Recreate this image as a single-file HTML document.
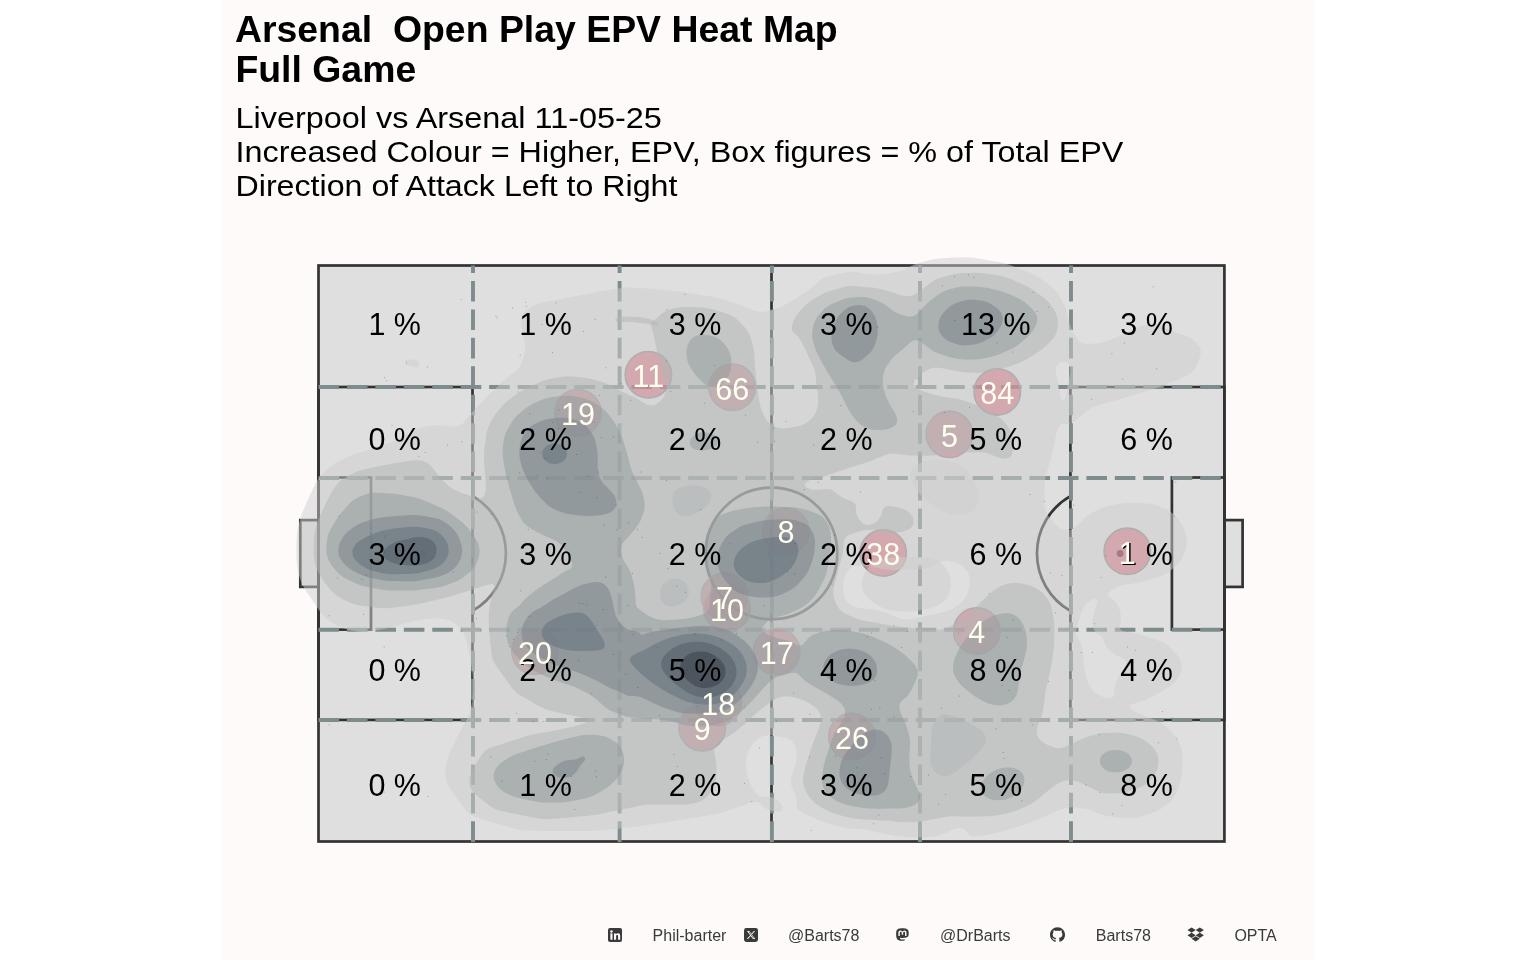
<!DOCTYPE html>
<html lang="en"><head><meta charset="utf-8"><title>Arsenal Open Play EPV Heat Map</title>
<style>html,body{margin:0;padding:0;background:#fff}body{width:1536px;height:960px;overflow:hidden}svg{display:block;will-change:transform}text{font-family:"Liberation Sans",Arial,sans-serif}</style></head><body>
<svg width="1536" height="960" viewBox="0 0 1536 960">
<rect x="221.5" y="0" width="1093" height="960" fill="#FFFAFA"/>
<g fill="#000">
<text transform="translate(234.9,42.1) scale(1.0204,1)" font-size="36.67" font-weight="bold" xml:space="preserve">Arsenal  Open Play EPV Heat Map</text>
<text transform="translate(235.4,81.7) scale(1.0204,1)" font-size="36.67" font-weight="bold" xml:space="preserve">Full Game</text>
<text transform="translate(235.5,127.9) scale(1.081,1)" font-size="30" xml:space="preserve">Liverpool vs Arsenal 11-05-25</text>
<text transform="translate(235.5,161.9) scale(1.078,1)" font-size="30" xml:space="preserve">Increased Colour = Higher, EPV, Box figures = % of Total EPV</text>
<text transform="translate(235.5,196.2) scale(1.0735,1)" font-size="30" xml:space="preserve">Direction of Attack Left to Right</text>
</g>
<g fill="none" stroke="#333333" stroke-width="2.7" stroke-linejoin="miter">
<rect x="318.5" y="265.5" width="905.9" height="576.0" fill="#DFDFDF"/>
<rect x="300.3" y="520.1" width="18.2" height="66.8" fill="#DFDFDF"/>
<rect x="1224.4" y="520.1" width="18.2" height="66.8" fill="#DFDFDF"/>
<line x1="771.5" y1="265.5" x2="771.5" y2="841.5"/>
<circle cx="771.5" cy="553.5" r="65.8"/>
<circle cx="771.5" cy="553.5" r="3.4" fill="#333333" stroke="none"/>
<rect x="318.5" y="387.0" width="154.0" height="332.9"/>
<rect x="318.5" y="477.5" width="52.5" height="152.1"/>
<circle cx="422.7" cy="553.5" r="3.4" fill="#333333" stroke="none"/>
<path d="M472.5,496.1 A66.0,66.0 0 0 1 472.5,610.9"/>
<rect x="1070.4" y="387.0" width="154.0" height="332.9"/>
<rect x="1171.9" y="477.5" width="52.5" height="152.1"/>
<circle cx="1120.2" cy="553.5" r="3.4" fill="#333333" stroke="none"/>
<path d="M1070.4,496.1 A66.0,66.0 0 0 0 1070.4,610.9"/>
</g>
<g fill="none" stroke="#7F8C8D" stroke-width="3.9" stroke-dasharray="20.6 7.84">
<line x1="473.0" y1="841.9" x2="473.0" y2="265.5"/>
<line x1="619.6" y1="841.9" x2="619.6" y2="265.5"/>
<line x1="771.9" y1="841.9" x2="771.9" y2="265.5"/>
<line x1="920.0" y1="841.9" x2="920.0" y2="265.5"/>
<line x1="1071.0" y1="841.9" x2="1071.0" y2="265.5"/>
<line x1="318.5" y1="387.0" x2="1224.4" y2="387.0"/>
<line x1="318.5" y1="478.0" x2="1224.4" y2="478.0"/>
<line x1="318.5" y1="629.7" x2="1224.4" y2="629.7"/>
<line x1="318.5" y1="720.0" x2="1224.4" y2="720.0"/>
</g>
<g fill="#D01E37" fill-opacity="0.47" stroke="#8E8E8E" stroke-width="1.6">
<circle cx="648.4" cy="374.7" r="23.2"/>
<circle cx="732.2" cy="387.2" r="23.2"/>
<circle cx="577.9" cy="412.7" r="23.2"/>
<circle cx="997.3" cy="391.9" r="23.2"/>
<circle cx="949.4" cy="434.3" r="23.2"/>
<circle cx="785.9" cy="531.1" r="23.2"/>
<circle cx="883.2" cy="552.9" r="23.2"/>
<circle cx="1127.3" cy="551.3" r="23.2"/>
<circle cx="724.5" cy="596.3" r="23.2"/>
<circle cx="727.0" cy="608.4" r="23.2"/>
<circle cx="776.7" cy="651.7" r="23.2"/>
<circle cx="976.8" cy="631" r="23.2"/>
<circle cx="535" cy="651.3" r="23.2"/>
<circle cx="718.2" cy="702.4" r="23.2"/>
<circle cx="702.2" cy="727.7" r="23.2"/>
<circle cx="851.9" cy="736.6" r="23.2"/>
</g>
<g stroke="none" fill-rule="evenodd" fill-opacity="0.50">
<path fill="#CDCDCD" d="M935.8,259.0 940.0,258.5 944.0,258.2 948.0,258.0 952.0,257.8 956.0,257.6 960.0,257.5 964.0,257.3 968.0,257.4 972.0,257.6 976.0,258.2 980.0,258.8 984.0,259.5 988.0,260.2 992.0,261.0 996.0,261.6 1000.0,262.3 1003.0,263.0 1006.0,263.8 1008.0,264.4 1010.0,265.1 1012.0,265.8 1014.0,266.6 1016.0,267.3 1018.0,268.1 1020.0,268.9 1022.0,269.6 1024.0,270.4 1026.0,271.1 1028.0,271.9 1030.0,272.7 1032.0,273.5 1034.0,274.5 1036.0,275.6 1038.0,276.8 1040.0,278.2 1042.0,279.7 1043.7,281.0 1046.0,282.7 1048.0,284.2 1050.0,285.7 1051.6,287.0 1053.8,289.0 1055.7,291.0 1057.2,293.0 1058.6,295.0 1059.8,297.0 1061.0,299.0 1062.0,300.9 1063.2,303.0 1064.2,305.0 1065.1,307.0 1065.8,309.0 1066.5,311.0 1067.0,313.0 1067.9,317.0 1068.8,321.0 1069.4,323.0 1069.9,325.0 1070.7,327.0 1071.6,329.0 1072.7,331.0 1073.8,333.0 1075.0,335.0 1076.0,336.8 1077.5,339.0 1079.2,341.0 1081.9,343.0 1084.0,343.7 1088.0,343.9 1092.0,343.8 1096.0,343.6 1100.0,343.1 1104.0,342.1 1106.0,341.4 1108.0,340.6 1110.0,339.9 1112.0,339.1 1114.0,338.3 1116.0,337.4 1118.0,336.6 1120.0,335.8 1121.9,335.0 1124.0,334.1 1126.0,333.2 1128.0,332.2 1130.0,331.3 1132.0,330.3 1134.0,329.3 1136.0,328.3 1138.0,327.3 1140.0,326.4 1142.0,325.7 1144.0,325.1 1148.0,324.5 1152.0,324.5 1156.0,324.8 1160.0,325.4 1162.0,326.0 1164.0,326.9 1166.0,328.0 1167.7,329.0 1170.0,330.1 1171.9,331.0 1174.0,331.8 1176.0,332.6 1178.0,333.2 1180.0,333.9 1182.0,334.5 1184.0,335.2 1186.0,335.9 1188.0,336.8 1190.0,337.9 1191.7,339.0 1194.0,340.9 1196.0,342.8 1198.0,344.9 1199.5,347.0 1200.5,349.0 1200.8,353.0 1200.0,356.5 1199.1,359.0 1198.3,361.0 1197.4,363.0 1196.6,365.0 1195.6,367.0 1194.5,369.0 1193.0,371.0 1190.9,373.0 1188.0,374.8 1186.0,375.8 1184.0,376.7 1182.0,377.6 1180.0,378.4 1178.0,379.3 1176.0,380.2 1174.1,381.0 1172.0,381.9 1170.0,382.8 1168.0,383.6 1166.0,384.5 1164.0,385.3 1162.0,386.1 1160.0,386.8 1158.0,387.6 1156.0,388.2 1154.0,388.8 1152.0,389.5 1150.0,390.1 1148.0,390.7 1146.0,391.3 1144.0,391.9 1142.0,392.5 1140.0,393.1 1138.0,393.7 1136.0,394.3 1134.0,394.9 1132.0,395.5 1130.0,396.1 1128.0,396.7 1126.0,397.3 1124.0,397.9 1122.0,398.5 1120.0,399.1 1118.0,399.7 1116.0,400.3 1114.0,400.8 1112.0,401.4 1110.0,402.0 1108.0,402.6 1106.0,403.1 1104.0,403.7 1102.0,404.3 1100.0,404.9 1098.0,405.5 1096.0,406.1 1094.0,406.9 1092.0,407.8 1090.0,408.9 1088.0,410.2 1086.0,411.7 1084.5,413.0 1082.1,415.0 1080.0,416.8 1078.0,418.4 1076.0,420.0 1074.0,421.5 1072.0,422.8 1070.0,423.7 1066.0,424.1 1062.0,423.8 1060.0,425.0 1058.8,427.0 1057.8,429.0 1057.1,431.0 1056.5,433.0 1056.0,435.0 1055.1,439.0 1054.3,443.0 1053.6,447.0 1052.8,451.0 1052.0,454.5 1051.4,457.0 1050.8,459.0 1050.2,461.0 1049.6,463.0 1049.0,465.0 1048.3,467.0 1047.7,469.0 1047.1,471.0 1046.5,473.0 1046.0,475.0 1045.2,479.0 1044.8,483.0 1044.6,487.0 1044.5,491.0 1044.4,495.0 1044.3,499.0 1044.2,503.0 1044.5,507.0 1045.5,511.0 1046.4,513.0 1047.6,515.0 1049.0,517.0 1050.6,519.0 1052.0,520.6 1054.0,523.0 1055.9,525.0 1058.0,526.8 1060.0,528.2 1062.0,529.2 1064.0,529.8 1068.0,530.2 1072.0,529.2 1074.0,528.1 1075.5,527.0 1077.8,525.0 1079.8,523.0 1081.8,521.0 1083.9,519.0 1086.0,517.1 1088.0,515.5 1090.0,514.2 1091.9,513.0 1094.0,511.9 1095.6,511.0 1098.0,509.8 1099.7,509.0 1102.0,508.0 1104.0,507.2 1106.0,506.5 1108.0,506.0 1112.0,505.1 1116.0,504.4 1120.0,503.7 1124.0,503.2 1128.0,502.8 1132.0,502.7 1136.0,502.8 1139.5,503.0 1142.0,503.1 1146.0,503.4 1150.0,503.8 1154.0,504.6 1156.0,505.2 1158.0,505.9 1160.0,506.7 1162.0,507.6 1164.0,508.4 1166.0,509.3 1168.0,510.3 1170.0,511.5 1172.0,512.9 1174.0,514.6 1176.0,516.7 1177.9,519.0 1179.5,521.0 1181.0,523.0 1182.4,525.0 1183.5,527.0 1184.4,529.0 1185.0,531.0 1185.5,533.0 1186.0,535.3 1186.5,539.0 1186.8,543.0 1186.4,547.0 1185.9,549.0 1185.2,551.0 1184.4,553.0 1183.5,555.0 1182.6,557.0 1181.5,559.0 1180.3,561.0 1178.7,563.0 1176.9,565.0 1174.7,567.0 1172.3,569.0 1170.0,570.9 1168.0,572.3 1166.0,573.6 1164.0,574.7 1162.0,575.6 1160.0,576.3 1158.0,577.0 1156.0,577.6 1154.0,578.2 1152.0,578.8 1150.0,579.4 1148.0,580.0 1146.0,580.6 1144.0,581.2 1142.0,581.7 1138.0,582.6 1134.0,583.4 1130.0,584.0 1126.0,584.6 1123.8,585.0 1120.0,586.0 1118.0,586.7 1116.0,587.7 1114.0,588.7 1112.0,590.1 1110.0,591.7 1108.5,593.0 1107.9,595.0 1109.8,597.0 1112.0,598.6 1114.0,600.3 1116.0,602.7 1117.5,605.0 1118.5,607.0 1119.3,609.0 1119.9,611.0 1120.7,615.0 1120.8,619.0 1120.4,623.0 1120.0,625.2 1120.0,629.0 1122.0,630.7 1124.0,631.4 1128.0,632.2 1132.0,632.9 1136.0,633.5 1140.0,634.4 1142.0,635.0 1144.0,635.6 1146.0,636.3 1148.0,637.0 1150.0,637.7 1152.0,638.4 1154.0,639.1 1156.0,639.8 1158.0,640.5 1160.0,641.2 1162.0,642.0 1164.0,643.0 1166.0,644.2 1168.0,645.8 1169.4,647.0 1171.5,649.0 1173.5,651.0 1175.4,653.0 1177.1,655.0 1178.5,657.0 1179.7,659.0 1180.5,661.0 1181.2,663.0 1181.8,667.0 1181.3,671.0 1180.7,673.0 1179.7,675.0 1178.6,677.0 1177.2,679.0 1176.0,680.6 1174.0,682.8 1172.0,684.5 1170.0,686.0 1168.0,687.5 1166.0,688.8 1164.0,690.1 1162.0,691.4 1160.0,692.5 1158.0,693.6 1156.0,694.6 1154.0,695.6 1152.0,696.5 1150.0,697.5 1148.0,698.5 1146.0,699.4 1144.0,700.2 1142.0,700.9 1140.0,701.6 1138.0,702.3 1136.0,702.9 1134.0,703.6 1132.0,704.4 1130.0,705.8 1131.3,709.0 1134.0,711.0 1136.0,712.1 1138.0,713.2 1140.0,714.1 1141.9,715.0 1144.0,715.8 1146.0,716.6 1148.0,717.4 1150.0,718.1 1152.0,718.9 1154.0,719.6 1156.0,720.5 1158.0,721.4 1160.0,722.5 1162.0,723.8 1163.6,725.0 1166.0,726.8 1168.0,728.5 1170.0,730.2 1172.0,732.1 1174.0,734.4 1175.9,737.0 1177.0,739.0 1178.0,741.0 1178.9,743.0 1179.8,745.0 1180.6,747.0 1181.3,749.0 1181.8,751.0 1182.5,755.0 1182.6,759.0 1182.4,763.0 1182.2,767.0 1182.0,770.5 1181.8,773.0 1181.4,777.0 1180.6,781.0 1180.0,783.0 1179.3,785.0 1178.5,787.0 1177.7,789.0 1176.8,791.0 1176.0,792.8 1175.0,795.0 1174.0,796.9 1172.6,799.0 1171.0,801.0 1168.8,803.0 1166.2,805.0 1164.0,806.6 1162.0,807.9 1160.4,809.0 1158.0,810.4 1156.0,811.4 1154.0,812.3 1152.0,813.1 1150.0,813.8 1148.0,814.4 1146.0,815.1 1144.0,815.7 1142.0,816.3 1140.0,816.9 1138.0,817.5 1134.0,818.2 1130.0,818.3 1126.0,818.1 1122.0,817.7 1118.0,817.4 1114.0,817.1 1110.0,816.6 1106.0,815.9 1104.0,815.3 1102.0,814.7 1100.0,814.1 1098.0,813.3 1096.0,812.5 1094.0,811.5 1092.0,810.5 1090.0,809.7 1088.0,809.1 1084.0,808.4 1080.0,807.9 1076.0,807.6 1072.0,807.3 1068.0,807.5 1064.0,808.4 1062.0,809.1 1060.0,809.8 1058.0,810.6 1056.0,811.4 1054.0,812.3 1052.2,813.0 1050.0,813.9 1048.0,814.8 1046.0,815.7 1044.0,816.5 1042.0,817.4 1040.0,818.3 1038.0,819.2 1036.0,820.1 1034.0,821.0 1032.0,821.8 1030.0,822.7 1028.0,823.5 1026.0,824.2 1024.0,824.9 1022.0,825.5 1020.0,826.2 1018.0,826.7 1016.0,827.3 1014.0,827.9 1012.0,828.5 1010.0,829.0 1008.0,829.6 1006.0,830.2 1004.0,830.8 1002.0,831.3 1000.0,831.9 998.0,832.5 996.0,833.0 992.0,833.9 988.0,834.7 984.0,835.4 980.0,835.9 976.0,836.3 972.0,836.2 970.0,835.4 968.0,833.2 966.3,831.0 964.0,829.3 962.0,828.5 958.0,828.2 954.5,829.0 952.0,830.0 950.0,831.0 948.0,832.0 946.0,832.8 944.0,833.7 942.0,834.4 940.0,835.0 938.0,835.5 934.0,836.2 930.0,836.7 926.0,837.0 922.0,837.2 918.0,837.3 914.0,837.4 910.0,837.3 906.3,837.0 904.0,836.8 900.0,836.3 896.0,835.8 892.0,835.1 888.0,834.5 884.0,833.8 880.1,833.0 878.0,832.5 876.0,832.0 874.0,831.5 872.0,830.9 868.0,830.0 864.0,829.3 861.3,829.0 858.0,828.8 854.0,828.7 850.0,828.4 846.0,827.8 842.6,827.0 840.0,826.4 836.0,825.4 834.0,824.9 830.0,823.9 828.0,823.4 826.0,822.7 824.0,822.1 822.0,821.4 820.0,820.6 818.0,819.7 816.0,818.9 814.0,818.1 812.0,817.2 810.0,816.4 808.0,815.5 806.0,814.5 804.0,813.5 802.0,812.4 800.0,811.2 798.0,809.4 796.8,807.0 796.9,803.0 796.7,799.0 796.0,796.1 794.7,793.0 793.8,791.0 792.7,789.0 792.0,787.2 791.2,785.0 790.8,781.0 791.2,777.0 791.7,775.0 792.4,773.0 793.1,771.0 793.8,769.0 794.5,767.0 795.2,765.0 795.8,763.0 796.5,759.0 796.8,755.0 796.4,751.0 796.0,748.9 795.4,747.0 794.5,745.0 793.3,743.0 792.0,741.4 790.0,739.8 788.0,738.7 786.0,738.0 784.0,737.5 781.5,737.0 778.0,736.4 774.0,735.7 770.0,735.3 766.0,735.4 762.0,736.5 760.0,737.5 758.0,738.8 756.0,740.4 754.0,742.4 752.0,744.8 750.5,747.0 749.3,749.0 748.4,751.0 747.6,753.0 747.0,755.0 746.3,759.0 746.0,763.0 746.2,767.0 746.6,771.0 747.4,775.0 747.9,777.0 748.5,779.0 749.2,781.0 749.9,783.0 750.8,785.0 751.8,787.0 752.9,789.0 754.0,790.9 755.6,793.0 757.6,795.0 760.0,796.5 764.0,796.7 768.0,796.8 772.0,797.4 774.0,798.1 776.0,799.0 778.0,800.5 780.0,802.5 781.8,805.0 782.8,807.0 782.0,810.2 780.0,811.2 776.0,811.5 772.0,811.0 770.0,810.4 768.0,809.6 766.0,808.5 764.0,807.1 762.0,805.3 760.0,803.4 758.0,801.9 754.0,801.9 752.0,802.4 750.0,803.1 748.0,803.8 746.0,804.5 744.0,805.2 742.0,805.9 740.0,806.6 738.0,807.3 736.0,807.9 734.0,808.6 732.0,809.3 730.0,810.0 728.0,810.7 726.0,811.3 724.0,812.0 722.0,812.6 720.0,813.1 716.0,814.0 712.0,814.8 708.0,815.5 704.0,816.2 700.0,816.8 696.0,817.5 692.0,818.2 688.0,818.8 684.0,819.5 680.0,820.1 676.0,820.7 672.0,821.4 668.0,822.0 664.0,822.7 661.7,823.0 658.0,823.5 654.0,824.1 650.0,824.6 646.7,825.0 644.0,825.4 640.0,825.9 636.0,826.4 632.0,826.9 628.0,827.5 624.0,828.0 620.0,828.5 616.0,829.0 612.0,829.4 608.0,829.8 604.0,830.1 600.0,830.3 596.0,830.5 592.0,830.7 588.0,830.9 584.0,831.0 580.0,831.0 576.0,831.0 572.0,830.9 568.0,830.9 564.0,830.9 560.0,830.9 556.0,830.9 552.0,830.9 548.0,830.9 544.0,830.9 540.0,830.8 536.0,830.6 532.0,830.5 528.0,830.4 524.0,830.3 520.0,829.9 516.0,829.0 514.0,828.5 512.0,827.9 510.0,827.3 508.0,826.7 506.0,826.1 504.0,825.5 502.0,824.9 500.0,824.3 498.0,823.8 496.0,823.2 494.0,822.7 492.0,822.1 490.0,821.5 488.0,820.9 486.0,820.3 484.0,819.7 482.0,819.1 480.0,818.5 478.0,817.8 476.0,817.2 474.0,816.4 472.0,815.5 470.0,814.2 468.6,813.0 466.6,811.0 465.0,809.0 463.5,807.0 462.0,805.0 460.5,803.0 459.0,801.0 457.6,799.0 456.1,797.0 454.6,795.0 453.2,793.0 452.0,791.2 450.5,789.0 449.3,787.0 448.2,785.0 447.3,783.0 446.6,781.0 446.1,779.0 445.5,775.0 445.4,771.0 445.8,767.0 446.6,763.0 447.1,761.0 447.7,759.0 448.3,757.0 449.0,755.0 449.8,753.0 450.6,751.0 451.5,749.0 452.4,747.0 453.3,745.0 454.3,743.0 455.3,741.0 456.3,739.0 457.3,737.0 458.4,735.0 459.5,733.0 460.6,731.0 461.7,729.0 462.9,727.0 464.0,725.0 465.0,723.0 466.0,721.2 467.1,719.0 468.0,717.0 468.8,715.0 469.5,713.0 470.2,711.0 470.7,709.0 471.6,705.0 472.3,701.0 472.7,697.0 473.0,693.0 473.1,689.0 473.1,685.0 473.0,681.0 472.7,677.0 472.4,673.0 472.0,669.2 471.7,667.0 471.0,663.0 470.4,659.0 470.0,656.8 469.2,653.0 468.4,649.0 467.4,645.0 466.4,641.0 465.8,639.0 465.1,637.0 464.3,635.0 463.3,633.0 462.0,631.0 460.6,629.0 459.0,627.0 457.2,625.0 454.8,623.0 452.0,621.4 450.0,620.6 448.0,619.9 446.0,619.3 442.0,618.4 438.0,618.2 434.0,618.4 430.0,618.7 427.3,619.0 424.0,619.4 420.0,619.9 416.0,620.5 413.3,621.0 410.0,621.8 408.0,622.4 406.0,623.0 404.0,623.6 402.0,624.2 400.0,624.8 398.0,625.4 396.0,626.0 394.0,626.6 392.0,627.1 390.0,627.6 386.0,628.6 383.8,629.0 380.0,629.8 376.0,630.6 373.8,631.0 370.0,631.7 366.0,632.1 362.0,632.0 358.0,631.4 355.7,631.0 352.0,630.3 348.0,629.5 344.0,628.5 342.0,627.9 340.0,627.1 338.0,626.1 336.2,625.0 334.0,623.6 332.0,622.2 330.3,621.0 328.0,619.3 326.0,617.7 324.0,616.0 322.0,613.9 320.0,611.4 318.3,609.0 316.9,607.0 315.6,605.0 314.3,603.0 312.9,601.0 311.6,599.0 310.2,597.0 308.9,595.0 307.5,593.0 306.2,591.0 304.9,589.0 303.7,587.0 302.6,585.0 301.7,583.0 300.9,581.0 300.2,579.0 299.5,577.0 298.9,575.0 298.4,573.0 297.5,569.0 297.0,565.0 296.7,561.0 296.5,557.0 296.4,553.0 296.4,549.0 296.5,545.0 296.6,541.0 296.9,537.0 297.2,533.0 297.8,529.0 298.7,525.0 299.2,523.0 299.8,521.0 300.4,519.0 301.0,517.0 301.7,515.0 302.4,513.0 303.1,511.0 303.9,509.0 304.8,507.0 305.6,505.0 306.5,503.0 307.3,501.0 308.2,499.0 309.1,497.0 310.0,495.0 310.9,493.0 311.8,491.0 312.8,489.0 313.8,487.0 314.8,485.0 315.9,483.0 317.1,481.0 318.5,479.0 320.0,477.1 321.9,475.0 323.8,473.0 325.8,471.0 327.8,469.0 330.0,467.0 332.0,465.4 334.0,464.0 335.6,463.0 338.0,461.7 340.0,460.6 342.0,459.7 344.0,458.7 346.0,457.7 348.0,456.8 350.0,455.8 352.0,455.0 354.0,454.3 356.0,453.6 358.0,453.0 360.0,452.3 362.0,451.8 364.0,451.2 366.0,450.6 368.0,450.0 370.0,449.4 372.0,448.8 374.0,448.2 376.0,447.6 378.0,446.9 380.0,446.2 382.0,445.5 384.0,444.8 386.0,444.1 388.0,443.3 390.0,442.6 392.0,441.8 394.0,441.0 396.0,440.2 398.0,439.3 400.0,438.2 402.0,437.2 404.0,436.1 405.9,435.0 408.0,433.8 410.0,432.7 412.0,431.6 414.0,430.6 416.0,429.7 418.0,428.9 420.0,428.1 422.0,427.5 424.0,427.0 428.0,426.2 432.0,425.8 436.0,425.6 440.0,425.6 444.0,425.8 448.0,426.2 452.0,426.5 456.0,426.5 460.0,425.6 462.0,424.3 463.3,423.0 465.1,421.0 466.8,419.0 468.0,417.5 470.0,415.0 471.7,413.0 473.6,411.0 475.5,409.0 477.3,407.0 479.2,405.0 481.0,403.0 482.9,401.0 484.6,399.0 486.0,397.6 488.0,395.5 490.0,393.6 492.0,391.7 494.0,389.8 496.0,388.0 498.0,386.2 500.0,384.3 501.4,383.0 503.6,381.0 506.0,379.0 508.0,377.3 510.0,375.6 512.0,373.9 514.0,372.3 515.8,371.0 518.0,369.2 520.0,367.0 521.1,365.0 521.8,363.0 522.3,361.0 522.9,359.0 523.5,357.0 524.1,355.0 524.7,353.0 525.3,349.0 525.1,345.0 524.4,341.0 523.5,337.0 522.7,333.0 522.0,329.5 521.6,327.0 521.0,323.0 520.8,319.0 522.0,315.0 523.5,313.0 525.6,311.0 528.0,309.1 530.0,307.7 532.0,306.4 534.0,305.3 536.0,304.4 538.0,303.7 540.0,303.1 544.0,302.2 548.0,301.5 550.6,301.0 554.0,300.4 558.0,299.7 561.7,299.0 564.0,298.6 568.0,297.8 572.0,297.1 576.0,296.3 580.0,295.4 582.1,295.0 586.0,294.2 590.0,293.4 594.0,292.6 598.0,291.9 602.0,291.1 606.0,290.4 610.0,289.7 614.0,289.0 618.0,288.4 622.0,287.9 626.0,287.6 630.0,287.5 634.0,287.7 638.0,287.9 642.0,288.1 646.0,288.4 650.0,288.7 653.7,289.0 656.0,289.2 660.0,289.6 664.0,290.1 668.0,290.5 672.0,290.9 676.0,291.3 680.0,291.8 684.0,292.3 688.0,292.9 692.0,293.6 696.0,294.2 700.0,294.9 704.0,295.5 708.0,296.1 712.0,296.8 716.0,297.5 720.0,298.5 722.0,299.0 724.0,299.6 726.0,300.3 728.0,301.0 730.0,301.6 732.0,302.3 733.9,303.0 736.0,303.7 738.0,304.4 740.0,305.2 742.0,305.9 744.0,306.7 746.0,307.5 748.0,308.2 750.0,309.0 752.0,309.7 754.0,310.4 756.0,311.0 760.0,311.7 764.0,311.7 768.0,311.1 772.0,310.2 774.0,309.6 776.0,309.0 778.0,308.3 780.0,307.4 782.0,306.5 784.0,305.4 786.0,304.3 788.0,303.2 790.0,302.1 791.9,301.0 794.0,299.7 796.0,298.4 798.0,297.2 800.0,295.7 802.0,294.3 804.0,293.0 806.0,291.6 808.0,290.2 809.8,289.0 812.0,287.4 814.0,285.8 816.0,284.1 818.0,282.2 820.0,280.2 821.5,279.0 824.0,277.7 826.0,277.1 828.0,276.5 830.0,275.9 832.0,275.3 834.0,274.8 838.0,273.9 842.0,273.2 846.0,272.5 850.0,272.0 854.0,271.8 858.0,272.2 861.7,273.0 864.0,273.5 868.0,274.1 872.0,274.4 876.0,274.6 880.0,274.6 884.0,274.1 888.0,273.4 890.3,273.0 894.0,272.3 898.0,271.4 900.0,270.8 902.0,270.2 904.0,269.4 906.0,268.5 908.0,267.6 910.0,266.6 912.0,265.7 914.0,264.8 916.0,264.0 918.0,263.3 920.0,262.7 922.0,262.2 924.0,261.6 926.0,261.1 930.0,260.1 934.0,259.3ZM946.0,560.8 942.0,561.6 940.0,562.3 938.0,563.3 936.0,564.3 934.0,565.3 932.0,566.3 930.0,567.1 928.0,567.8 926.0,568.3 922.0,569.0 918.0,569.2 914.0,569.4 910.0,569.5 906.0,569.7 902.0,569.9 898.0,570.0 894.0,570.0 890.0,569.8 886.0,569.5 882.5,569.0 880.0,568.6 876.0,567.7 873.0,567.0 870.0,566.4 866.0,565.9 862.0,565.6 858.0,565.6 854.0,566.1 852.0,566.9 850.0,568.2 848.0,570.3 846.3,573.0 845.3,575.0 844.6,577.0 844.0,579.0 843.3,583.0 843.0,587.0 843.1,591.0 843.8,595.0 844.4,597.0 845.4,599.0 846.7,601.0 848.0,602.6 850.0,604.3 852.0,605.5 854.0,606.4 856.0,607.1 858.0,607.7 862.0,608.5 866.0,609.0 870.0,609.3 874.0,609.7 878.0,610.4 880.5,611.0 884.0,612.1 886.0,612.8 888.0,613.6 890.0,614.4 892.0,615.3 894.0,616.2 896.0,617.0 898.0,617.8 900.0,618.4 902.0,619.0 906.0,619.5 910.0,619.3 912.3,619.0 916.0,618.3 920.0,617.4 924.0,616.5 928.0,615.6 930.8,615.0 934.0,614.3 938.0,613.4 942.0,612.5 944.0,611.9 946.0,611.3 948.0,610.7 950.0,609.9 952.0,609.1 954.0,608.0 955.8,607.0 958.0,605.5 960.0,603.9 962.0,601.8 964.0,599.3 965.5,597.0 966.6,595.0 967.5,593.0 968.3,591.0 968.9,589.0 969.7,585.0 970.0,581.0 969.5,577.0 969.0,575.0 968.3,573.0 967.2,571.0 966.0,569.4 964.0,567.3 962.0,565.7 960.0,564.4 958.0,563.4 956.0,562.6 954.0,561.9 952.0,561.3 948.0,560.7ZM1060.0,362.6 1058.0,363.9 1056.0,367.0 1055.8,371.0 1056.5,375.0 1057.4,379.0 1058.0,382.4 1058.6,385.0 1059.3,389.0 1059.9,393.0 1060.9,397.0 1061.4,399.0 1062.0,401.0 1064.8,399.0 1065.5,397.0 1066.1,395.0 1066.7,391.0 1067.4,387.0 1068.0,384.6 1068.7,381.0 1069.5,377.0 1070.0,374.7 1070.4,371.0 1070.2,367.0 1069.6,365.0 1068.2,363.0 1066.0,362.0 1062.0,362.0 1060.0,362.6ZM1096.0,598.8 1092.0,599.7 1090.0,600.7 1088.0,602.2 1086.0,604.2 1084.0,606.9 1082.9,609.0 1082.0,610.7 1081.1,613.0 1080.4,615.0 1079.7,617.0 1079.2,619.0 1078.6,621.0 1078.0,622.9 1077.5,625.0 1076.9,627.0 1076.2,629.0 1075.6,633.0 1076.0,635.3 1077.0,637.0 1078.0,638.7 1079.6,641.0 1080.7,643.0 1081.5,645.0 1082.0,647.0 1082.8,651.0 1083.2,655.0 1083.6,659.0 1083.9,663.0 1084.4,667.0 1084.9,671.0 1085.6,675.0 1086.7,679.0 1087.3,681.0 1088.1,683.0 1089.1,685.0 1090.3,687.0 1091.7,689.0 1093.5,691.0 1095.7,693.0 1098.0,694.5 1100.0,695.6 1102.0,696.5 1104.0,697.2 1106.0,697.7 1110.0,698.2 1113.4,697.0 1114.1,695.0 1114.4,691.0 1114.9,687.0 1116.0,683.0 1116.7,681.0 1117.6,679.0 1118.6,677.0 1119.8,675.0 1121.0,673.0 1122.3,671.0 1123.6,669.0 1124.7,667.0 1125.7,665.0 1126.0,661.7 1124.2,659.0 1122.0,657.9 1120.0,657.0 1118.0,656.2 1116.0,655.2 1114.0,654.1 1112.3,653.0 1110.1,651.0 1108.3,649.0 1106.8,647.0 1105.7,645.0 1104.7,643.0 1104.1,641.0 1103.4,639.0 1102.3,637.0 1100.0,635.2 1098.0,634.0 1096.0,632.4 1094.7,631.0 1093.6,629.0 1092.9,627.0 1092.4,623.0 1092.5,619.0 1093.3,615.0 1093.9,613.0 1094.6,611.0 1095.3,609.0 1096.0,607.1 1096.7,605.0 1097.3,603.0 1096.6,599.0Z"/>
<path fill="#B2B6B6" d="M969.0,273.0 972.0,272.9 976.0,272.8 980.0,273.0 984.0,273.3 988.0,273.9 992.0,274.5 995.6,275.0 998.0,275.4 1002.0,276.1 1005.2,277.0 1008.0,278.0 1010.0,278.7 1012.0,279.6 1014.0,280.5 1016.0,281.4 1018.0,282.2 1019.8,283.0 1022.0,284.0 1024.0,284.9 1026.0,285.8 1028.0,286.8 1030.0,287.9 1031.7,289.0 1034.0,290.6 1036.0,292.0 1038.0,293.5 1040.0,295.0 1042.0,296.5 1044.0,298.0 1046.0,299.6 1047.5,301.0 1049.4,303.0 1051.0,305.0 1052.4,307.0 1053.6,309.0 1054.7,311.0 1055.7,313.0 1056.5,315.0 1057.2,317.0 1057.8,321.0 1057.8,325.0 1057.4,329.0 1056.3,333.0 1055.4,335.0 1054.1,337.0 1052.5,339.0 1050.7,341.0 1048.9,343.0 1046.9,345.0 1044.7,347.0 1042.2,349.0 1040.0,350.6 1038.0,351.9 1036.4,353.0 1034.0,354.6 1032.0,355.9 1030.2,357.0 1028.0,358.4 1026.0,359.6 1024.0,360.6 1022.0,361.6 1020.0,362.4 1018.0,363.2 1016.0,364.0 1014.0,364.7 1012.0,365.5 1010.0,366.2 1008.0,366.9 1006.0,367.5 1004.0,368.1 1002.0,368.6 998.0,369.5 994.0,370.3 990.6,371.0 988.0,371.6 984.0,372.3 980.0,372.8 976.0,372.9 972.0,372.8 968.0,372.5 964.0,372.2 960.0,371.7 956.0,371.1 952.0,370.3 948.0,369.4 944.0,368.6 940.0,367.9 936.0,367.6 932.0,368.1 930.0,368.8 928.0,369.6 926.0,370.7 924.0,371.9 922.3,373.0 920.0,374.8 918.0,376.7 916.0,378.7 914.3,381.0 913.6,383.0 914.0,385.4 915.1,387.0 917.8,389.0 920.0,390.0 922.0,390.9 924.0,391.6 926.0,392.3 928.0,393.0 930.0,393.6 932.0,394.2 934.0,394.8 936.0,395.3 940.0,396.2 944.0,396.9 948.0,397.5 952.0,398.0 956.0,398.6 958.1,399.0 962.0,400.0 964.0,400.6 966.0,401.2 968.0,401.9 970.0,402.6 972.0,403.3 974.0,404.1 976.0,404.8 978.0,405.7 980.0,406.5 982.0,407.4 984.0,408.3 986.0,409.2 988.0,410.2 990.0,411.4 992.0,412.6 994.0,413.8 995.7,415.0 998.0,416.6 1000.0,418.1 1002.0,419.8 1003.3,421.0 1005.2,423.0 1006.8,425.0 1008.0,426.7 1009.3,429.0 1010.2,431.0 1011.0,433.0 1011.7,435.0 1012.2,437.0 1012.8,441.0 1013.0,445.0 1013.0,449.0 1012.4,453.0 1011.6,455.0 1010.1,457.0 1008.0,458.2 1004.0,458.7 1000.0,458.0 998.0,457.3 996.0,456.6 994.0,455.7 992.0,454.9 990.0,454.1 988.0,453.4 986.0,452.8 982.0,452.2 978.0,452.1 974.0,452.2 970.0,452.4 966.0,452.6 962.0,452.8 959.3,453.0 956.0,453.3 952.0,453.7 948.0,454.1 944.0,454.5 940.0,454.9 936.0,455.3 932.0,455.6 928.0,455.8 924.0,455.7 920.0,455.7 916.0,455.5 912.0,455.4 908.0,455.2 905.6,455.0 902.0,454.6 898.0,454.0 894.0,453.6 890.0,453.8 886.0,454.7 884.0,455.4 882.0,456.2 880.1,457.0 878.0,457.9 876.0,458.8 874.0,459.6 872.0,460.4 870.0,461.2 868.0,461.9 866.0,462.6 864.0,463.3 862.0,463.9 860.0,464.5 858.0,465.1 856.0,465.7 854.0,466.3 852.0,466.9 850.0,467.6 848.0,468.2 846.0,468.9 844.0,469.6 842.0,470.3 840.0,470.9 838.0,471.6 836.0,472.3 834.0,473.0 832.0,473.8 830.0,474.5 828.0,475.2 826.0,476.0 824.0,476.6 820.0,477.5 816.0,478.3 812.9,479.0 810.0,480.1 808.0,481.0 806.0,482.3 804.4,485.0 805.9,487.0 808.0,488.1 810.0,489.0 814.0,489.7 818.0,489.8 822.0,489.5 826.0,489.0 830.0,489.3 832.0,490.0 834.0,491.4 836.0,493.0 838.0,494.6 840.0,496.0 841.5,497.0 844.0,498.3 846.0,499.2 848.0,500.0 850.0,500.8 852.0,501.7 854.0,502.8 855.8,505.0 856.0,509.0 856.3,513.0 857.6,517.0 858.7,519.0 860.0,520.6 862.0,522.5 864.0,523.9 866.0,524.7 868.9,525.0 872.0,524.5 874.0,523.5 876.0,522.1 878.0,520.1 880.0,517.3 881.2,515.0 882.0,513.0 882.6,511.0 883.2,509.0 884.5,507.0 888.0,506.0 892.0,506.3 895.8,507.0 898.0,507.4 902.0,508.5 904.0,509.3 906.0,510.3 908.0,511.6 909.7,513.0 911.5,515.0 912.6,517.0 913.3,519.0 913.5,523.0 912.9,525.0 912.0,526.6 910.0,528.6 908.0,529.8 906.0,530.6 904.0,531.2 900.0,532.0 896.0,532.7 892.0,532.9 888.0,532.4 884.0,531.6 880.5,531.0 878.0,530.5 874.0,530.0 870.0,529.8 866.0,529.9 862.0,530.7 860.0,531.2 858.0,531.7 856.0,532.4 854.0,533.1 852.0,533.8 850.0,534.6 848.0,535.6 846.2,537.0 844.8,539.0 844.0,541.0 843.5,545.0 843.3,549.0 842.9,553.0 842.0,556.8 841.4,559.0 840.7,561.0 840.1,563.0 839.6,565.0 839.0,567.0 838.5,569.0 838.0,571.0 837.5,573.0 836.9,575.0 836.4,577.0 835.9,579.0 835.4,581.0 834.4,585.0 833.6,589.0 833.2,593.0 833.7,597.0 834.3,599.0 835.0,601.0 835.9,603.0 836.8,605.0 837.9,607.0 839.4,609.0 841.4,611.0 844.0,612.9 846.0,613.9 848.0,614.9 850.0,615.8 852.0,616.7 854.0,617.6 856.0,618.4 858.0,619.1 860.0,619.8 862.0,620.3 865.4,621.0 868.0,621.5 872.0,622.1 876.0,622.8 880.0,623.6 884.0,624.3 888.0,625.0 892.0,625.7 896.0,626.3 900.0,626.8 904.0,627.3 908.0,627.6 912.0,627.9 916.0,628.3 920.0,628.7 924.0,629.3 928.0,629.8 932.0,630.0 936.0,629.9 940.0,629.4 942.1,629.0 946.0,627.9 948.0,627.2 950.0,626.3 952.0,625.4 954.0,624.3 956.0,623.2 958.0,621.9 960.0,620.6 962.0,619.2 964.0,617.7 966.0,616.1 968.0,614.4 969.7,613.0 971.9,611.0 974.0,609.0 976.0,607.1 978.0,605.2 980.0,603.2 982.0,601.2 984.0,599.2 986.0,597.3 988.0,595.4 990.0,593.7 992.0,592.0 994.0,590.4 996.0,589.0 998.0,587.7 1000.0,586.6 1002.0,585.7 1004.0,584.9 1006.0,584.2 1008.0,583.7 1012.0,583.1 1016.0,583.0 1020.0,583.3 1024.0,583.9 1028.0,585.0 1030.0,585.6 1032.0,586.4 1034.0,587.3 1036.0,588.3 1038.0,589.5 1040.0,590.9 1042.0,592.5 1044.0,594.5 1046.0,596.8 1047.5,599.0 1048.7,601.0 1049.7,603.0 1050.6,605.0 1051.3,607.0 1051.9,609.0 1052.7,613.0 1053.3,617.0 1053.8,621.0 1054.1,625.0 1054.4,629.0 1054.4,633.0 1054.3,637.0 1054.1,641.0 1053.9,645.0 1053.6,649.0 1053.2,653.0 1052.6,657.0 1052.0,660.8 1051.6,663.0 1050.9,667.0 1050.2,671.0 1049.4,675.0 1048.4,679.0 1047.9,681.0 1047.4,683.0 1046.9,685.0 1046.0,688.7 1045.6,691.0 1045.0,695.0 1044.6,699.0 1044.1,703.0 1043.6,707.0 1042.8,711.0 1042.0,714.0 1041.1,717.0 1040.3,719.0 1039.6,721.0 1038.8,723.0 1038.0,724.9 1037.3,727.0 1036.6,731.0 1037.2,735.0 1038.0,736.9 1039.4,739.0 1041.3,741.0 1043.8,743.0 1046.0,744.2 1048.0,745.1 1050.0,745.9 1052.0,746.7 1054.0,747.4 1056.0,748.0 1060.0,748.3 1064.0,747.3 1066.0,746.5 1068.0,745.7 1070.0,744.7 1072.0,743.7 1074.0,742.7 1076.0,741.7 1078.0,740.7 1080.0,739.8 1082.0,739.0 1084.0,738.2 1086.0,737.5 1088.0,736.8 1090.0,736.1 1092.0,735.5 1094.0,734.9 1096.0,734.4 1100.0,733.6 1104.0,733.1 1108.0,732.9 1112.0,732.7 1116.0,732.6 1120.0,732.7 1124.0,733.3 1128.0,734.2 1130.0,734.7 1132.0,735.2 1134.0,735.8 1136.0,736.4 1138.0,737.1 1140.0,738.0 1142.0,739.0 1144.0,740.2 1146.0,741.6 1148.0,743.0 1150.0,744.6 1152.0,746.4 1154.0,748.6 1155.6,751.0 1156.6,753.0 1157.4,755.0 1157.9,757.0 1158.4,761.0 1158.2,765.0 1157.3,769.0 1156.5,771.0 1155.5,773.0 1154.2,775.0 1152.6,777.0 1150.9,779.0 1149.0,781.0 1146.9,783.0 1144.3,785.0 1142.0,786.3 1140.0,787.3 1138.0,788.1 1136.0,788.9 1134.0,789.7 1132.0,790.4 1130.1,791.0 1128.0,791.6 1124.0,792.5 1120.0,793.0 1116.0,793.3 1112.0,793.5 1108.0,793.6 1104.0,793.2 1100.0,792.0 1098.0,791.2 1096.0,790.3 1094.0,789.3 1092.0,788.3 1090.0,787.4 1088.0,786.4 1086.0,785.4 1084.0,784.4 1082.0,783.5 1080.0,782.6 1078.0,781.8 1076.0,781.2 1074.0,780.6 1070.0,780.1 1066.0,780.5 1064.0,781.0 1062.0,781.7 1060.0,782.6 1058.0,783.6 1056.0,784.8 1054.0,786.2 1052.0,787.6 1050.2,789.0 1048.0,790.7 1046.0,792.3 1044.0,793.9 1042.0,795.6 1040.4,797.0 1038.0,798.9 1036.0,800.5 1034.0,801.9 1032.3,803.0 1030.0,804.4 1028.0,805.5 1026.0,806.5 1024.0,807.4 1022.0,808.3 1020.0,809.1 1018.0,809.9 1016.0,810.7 1014.0,811.4 1012.0,812.0 1010.0,812.6 1008.0,813.1 1004.0,814.0 1000.0,814.8 996.0,815.5 992.0,816.0 988.0,816.2 984.0,816.3 980.0,816.4 976.0,816.4 972.0,816.4 968.0,816.4 964.0,816.4 960.0,816.4 956.0,816.3 952.0,816.2 948.0,816.5 944.9,817.0 942.0,817.5 938.0,818.3 934.0,819.0 930.0,819.7 926.0,820.4 922.0,821.0 918.0,821.4 914.0,821.9 910.0,822.2 906.0,822.3 902.0,822.3 898.0,821.9 894.0,821.2 890.0,820.8 886.0,820.6 882.0,820.5 878.0,820.2 874.0,820.0 870.0,819.7 866.0,819.4 862.0,819.2 858.6,819.0 856.0,818.8 852.0,818.2 848.0,817.3 846.0,816.8 844.0,816.3 842.0,815.7 840.0,815.2 838.0,814.7 836.0,814.1 834.0,813.5 832.0,812.8 830.0,812.0 828.0,811.1 826.0,810.1 824.1,809.0 822.0,807.8 820.0,806.6 818.0,805.3 816.0,803.8 814.0,802.2 812.0,800.2 810.0,797.9 808.0,795.1 806.7,793.0 805.7,791.0 804.9,789.0 804.2,787.0 803.7,785.0 803.1,781.0 803.2,777.0 803.9,773.0 804.9,769.0 805.4,767.0 805.9,765.0 806.5,763.0 807.1,761.0 807.8,759.0 808.4,757.0 809.1,755.0 809.7,753.0 810.4,751.0 811.1,749.0 811.8,747.0 812.5,745.0 813.2,743.0 813.9,741.0 814.7,739.0 815.4,737.0 816.2,735.0 816.9,733.0 817.7,731.0 818.4,729.0 819.1,727.0 819.8,725.0 820.4,723.0 821.0,719.0 820.5,715.0 819.8,713.0 818.6,711.0 817.0,709.0 814.9,707.0 812.2,705.0 810.0,703.7 808.0,702.6 806.0,701.6 804.0,700.7 802.0,699.8 800.0,699.0 798.0,698.4 796.0,697.8 792.4,697.0 790.0,696.6 786.0,696.3 782.0,696.8 780.0,697.3 778.0,698.0 776.0,698.9 774.0,700.0 772.3,701.0 770.0,702.6 768.0,704.0 766.0,705.5 764.0,707.0 762.0,708.5 760.0,710.1 758.0,711.7 756.5,713.0 754.2,715.0 752.0,717.0 750.0,718.9 748.0,720.7 746.0,722.6 744.0,724.4 742.0,726.1 740.0,727.8 738.5,729.0 736.0,731.0 734.0,732.5 732.0,733.9 730.4,735.0 728.0,736.7 726.0,738.0 724.4,739.0 722.0,740.6 720.0,741.9 718.4,743.0 716.2,745.0 714.8,747.0 714.2,749.0 714.4,753.0 715.3,757.0 716.0,760.7 716.3,763.0 716.5,767.0 716.5,771.0 716.2,775.0 716.0,777.8 715.6,781.0 714.5,785.0 713.6,787.0 712.6,789.0 711.4,791.0 710.0,793.0 708.6,795.0 706.8,797.0 704.4,799.0 702.0,800.4 700.0,801.3 698.0,802.0 696.0,802.7 694.0,803.2 690.0,804.1 686.0,804.5 682.0,804.7 678.0,804.7 674.0,804.6 670.0,804.6 666.0,804.6 662.0,804.6 658.0,804.5 654.0,804.5 650.0,804.6 646.0,804.8 642.0,805.3 638.0,806.0 634.0,806.9 630.0,807.7 626.0,808.6 623.9,809.0 620.0,809.8 616.0,810.6 612.0,811.5 608.0,812.3 605.0,813.0 602.0,813.6 598.0,814.4 594.2,815.0 590.0,815.5 586.0,815.9 582.0,816.2 578.0,816.6 574.0,817.0 570.0,817.4 566.0,817.7 562.0,818.1 558.0,818.5 554.0,818.8 550.0,819.1 546.0,819.2 542.3,819.0 540.0,818.7 536.0,818.0 532.0,817.3 528.0,816.5 524.0,815.7 520.2,815.0 518.0,814.5 514.0,813.7 510.4,813.0 508.0,812.5 504.0,811.6 501.1,811.0 498.0,810.1 496.0,809.4 494.0,808.4 492.0,807.3 490.0,805.9 488.0,804.4 486.2,803.0 484.0,801.3 482.0,799.7 480.0,798.1 478.0,796.4 476.3,795.0 474.1,793.0 472.3,791.0 471.0,789.0 470.0,787.0 469.5,785.0 469.2,781.0 469.7,777.0 470.3,775.0 471.1,773.0 472.0,771.1 473.2,769.0 474.3,767.0 475.5,765.0 476.7,763.0 477.9,761.0 479.1,759.0 480.3,757.0 481.6,755.0 483.1,753.0 485.0,751.0 487.9,749.0 490.0,748.0 492.0,747.3 494.0,746.6 496.0,745.9 498.0,745.3 500.0,744.7 502.0,744.0 504.0,743.4 506.0,742.7 508.0,742.0 510.0,741.4 512.0,740.8 514.0,740.1 516.0,739.5 518.0,738.9 520.0,738.2 522.0,737.6 524.0,736.9 526.0,736.3 528.0,735.7 530.0,735.1 534.0,734.2 538.0,733.5 541.4,733.0 544.0,732.5 548.0,731.8 552.0,731.1 556.0,730.2 560.0,729.4 564.0,728.5 568.0,727.7 571.4,727.0 574.0,726.2 576.0,725.7 579.2,725.0 582.0,724.0 584.0,723.4 588.0,721.8 586.6,719.0 584.0,718.3 582.0,717.7 580.0,717.2 576.0,716.3 572.0,715.5 569.6,715.0 566.0,714.3 562.0,713.4 558.0,712.5 554.0,711.5 551.8,711.0 548.0,709.9 546.0,709.3 544.0,708.5 542.0,707.6 540.0,706.6 538.0,705.6 536.0,704.4 534.0,703.3 532.0,702.1 530.1,701.0 528.0,699.8 526.0,698.6 524.0,697.5 522.0,696.3 520.0,695.1 518.0,693.7 516.0,692.2 514.0,690.2 512.0,687.9 510.0,685.2 508.4,683.0 507.0,681.0 505.6,679.0 504.1,677.0 502.7,675.0 501.3,673.0 500.0,671.3 498.3,669.0 496.9,667.0 495.6,665.0 494.4,663.0 493.4,661.0 492.6,659.0 492.1,657.0 491.4,653.0 491.0,649.0 490.6,645.0 490.2,641.0 490.0,638.3 489.7,635.0 489.4,631.0 489.0,627.0 488.8,623.0 488.8,619.0 488.8,615.0 489.1,611.0 489.5,607.0 490.0,604.0 490.6,601.0 491.5,597.0 492.1,595.0 492.7,593.0 493.3,591.0 493.9,589.0 494.4,585.0 492.0,583.9 488.0,584.6 486.0,585.2 484.0,585.8 482.0,586.4 480.0,587.1 478.0,587.8 476.0,588.5 474.0,589.1 472.0,589.8 470.0,590.5 468.0,591.1 466.0,591.7 464.0,592.3 462.0,592.9 460.0,593.5 458.0,594.0 456.0,594.6 454.0,595.2 452.0,595.8 450.0,596.4 448.0,597.0 446.0,597.5 444.0,598.1 442.0,598.6 438.0,599.5 434.0,600.4 431.3,601.0 428.0,601.8 424.0,602.7 420.0,603.6 416.0,604.4 412.5,605.0 410.0,605.4 406.0,605.9 402.0,606.4 398.0,606.9 394.0,607.5 390.0,607.9 386.0,608.2 382.0,608.2 378.0,607.8 374.0,607.4 371.2,607.0 368.0,606.6 364.0,606.1 360.0,605.6 357.1,605.0 354.0,604.1 352.0,603.4 350.0,602.5 348.0,601.6 346.0,600.7 344.0,599.7 342.0,598.7 340.0,597.6 338.0,596.4 336.0,595.0 334.0,593.3 332.0,591.3 330.0,589.1 328.2,587.0 326.6,585.0 325.0,583.0 323.5,581.0 322.2,579.0 321.0,577.0 320.0,575.2 318.8,573.0 317.8,571.0 316.9,569.0 316.1,567.0 315.4,565.0 314.9,563.0 314.3,559.0 314.0,556.1 313.8,553.0 313.7,549.0 313.8,545.0 314.0,541.0 314.2,537.0 314.7,533.0 315.4,529.0 316.0,527.0 316.6,525.0 317.4,523.0 318.1,521.0 318.9,519.0 319.7,517.0 320.5,515.0 321.3,513.0 322.2,511.0 323.1,509.0 324.0,507.0 325.0,505.0 325.9,503.0 327.0,501.0 328.0,499.0 329.0,497.0 330.0,495.1 331.2,493.0 332.4,491.0 333.7,489.0 335.1,487.0 336.6,485.0 338.0,483.2 340.0,481.1 342.0,479.5 344.0,478.2 346.0,477.0 348.0,476.0 350.0,475.0 352.0,474.0 354.0,473.1 356.0,472.1 358.0,471.3 360.0,470.5 362.0,469.9 364.0,469.4 368.0,468.4 372.0,467.6 375.2,467.0 378.0,466.4 382.0,465.6 385.0,465.0 388.0,464.4 392.0,463.7 396.0,463.0 400.0,462.4 404.0,461.8 408.0,461.1 412.0,460.5 416.0,460.2 420.0,460.4 423.0,461.0 426.0,462.2 428.0,463.3 430.0,464.9 431.9,467.0 433.5,469.0 434.9,471.0 436.0,472.5 437.9,475.0 439.6,477.0 441.5,479.0 443.5,481.0 445.5,483.0 447.7,485.0 450.0,486.9 452.0,488.2 454.0,489.5 456.0,490.5 458.0,491.4 460.0,492.3 462.0,493.0 464.0,493.7 466.0,494.4 468.0,495.1 470.0,495.8 472.0,496.5 474.0,497.3 476.0,498.0 478.0,498.5 482.0,497.9 484.0,495.7 485.0,493.0 485.6,491.0 486.0,488.0 486.0,485.0 485.7,481.0 485.3,477.0 484.9,473.0 484.6,469.0 484.3,465.0 484.1,461.0 484.0,457.0 484.0,453.8 484.2,451.0 484.7,447.0 485.3,443.0 485.8,439.0 486.0,436.5 486.5,433.0 487.0,431.0 487.7,429.0 488.4,427.0 489.3,425.0 490.2,423.0 491.2,421.0 492.3,419.0 493.6,417.0 495.0,415.0 496.5,413.0 498.0,411.1 499.7,409.0 501.4,407.0 503.2,405.0 505.2,403.0 507.4,401.0 510.0,399.0 512.0,397.5 514.0,396.1 515.5,395.0 518.0,393.3 520.0,391.9 522.0,390.7 524.0,389.6 526.0,388.6 528.0,387.6 530.0,386.7 532.0,385.8 533.7,385.0 536.0,383.9 538.0,383.0 540.0,382.1 542.0,381.3 544.0,380.6 546.0,379.9 548.0,379.4 552.0,378.5 556.0,377.8 560.0,377.1 564.0,376.6 568.0,376.3 572.0,376.4 576.0,376.8 580.0,377.2 584.0,377.7 588.0,378.3 591.3,379.0 594.0,379.7 596.0,380.2 598.0,380.9 600.0,381.5 602.0,382.1 604.0,382.8 606.0,383.5 608.0,384.3 610.0,385.1 612.0,386.1 613.7,387.0 616.0,388.3 618.0,389.4 620.0,390.6 622.0,391.7 624.0,392.7 626.0,393.6 628.0,394.5 630.0,395.4 632.0,396.2 633.7,397.0 636.0,398.1 637.7,399.0 640.0,400.4 642.0,401.8 643.7,403.0 646.0,404.3 648.0,405.1 652.0,405.4 654.2,405.0 656.0,404.2 657.9,403.0 660.0,401.3 662.0,399.3 663.7,397.0 664.7,395.0 665.6,393.0 666.3,391.0 666.9,387.0 666.0,384.1 664.3,381.0 663.4,379.0 662.6,377.0 662.1,375.0 661.2,371.0 660.4,367.0 660.0,364.7 659.2,361.0 658.3,357.0 657.4,353.0 656.5,349.0 656.0,346.6 655.3,343.0 654.5,339.0 654.0,336.5 653.1,333.0 652.6,331.0 652.0,329.0 651.3,327.0 651.2,323.0 653.3,321.0 655.8,319.0 658.0,317.0 660.0,315.1 662.0,313.4 664.0,312.0 665.6,311.0 668.0,310.0 670.0,309.4 672.0,308.8 676.0,307.9 680.0,307.2 684.0,306.9 688.0,306.9 691.2,307.0 694.0,307.1 698.0,307.4 702.0,307.6 706.0,308.0 710.0,308.8 714.0,309.8 716.0,310.4 718.0,310.9 720.0,311.6 722.0,312.2 724.0,312.8 726.0,313.5 728.0,314.2 730.0,315.0 732.0,316.0 733.6,317.0 736.0,318.8 738.0,320.6 740.0,322.5 742.0,324.5 744.0,326.6 746.0,328.9 747.5,331.0 748.7,333.0 749.6,335.0 750.4,337.0 751.1,339.0 751.7,341.0 752.3,343.0 752.8,345.0 753.7,349.0 754.2,353.0 754.5,357.0 754.7,361.0 754.9,365.0 755.2,369.0 755.5,373.0 755.9,377.0 756.4,381.0 756.9,385.0 757.4,389.0 758.0,393.0 758.6,397.0 759.3,401.0 760.0,404.8 760.5,407.0 761.1,409.0 761.9,411.0 762.8,413.0 763.8,415.0 764.9,417.0 766.0,418.9 767.5,421.0 769.2,423.0 771.7,425.0 774.0,426.2 776.0,427.1 778.0,427.7 782.0,428.4 786.0,428.2 790.0,427.8 794.0,427.1 798.0,426.3 800.0,425.7 802.0,425.1 804.0,424.3 806.0,423.1 808.0,421.7 810.0,419.9 812.0,417.9 814.0,415.5 815.5,413.0 816.4,411.0 817.0,409.0 817.8,405.0 818.2,401.0 818.2,397.0 817.8,393.0 817.2,389.0 816.5,385.0 816.1,381.0 815.8,377.0 815.2,373.0 814.3,369.0 813.5,367.0 812.6,365.0 811.8,363.0 810.7,361.0 809.8,359.0 808.7,357.0 808.0,355.1 807.0,353.0 806.2,351.0 805.1,349.0 804.1,347.0 802.9,345.0 802.0,343.0 800.9,341.0 800.0,339.3 798.3,337.0 796.3,335.0 794.0,333.0 792.2,331.0 791.7,329.0 792.0,326.1 792.8,323.0 793.6,321.0 794.5,319.0 795.5,317.0 796.8,315.0 798.0,313.5 800.0,311.1 801.9,309.0 803.8,307.0 805.8,305.0 808.0,303.0 810.0,301.5 812.0,300.1 813.8,299.0 816.0,297.7 818.0,296.5 820.0,295.4 822.0,294.3 824.0,293.3 826.0,292.3 828.0,291.5 830.0,290.9 832.0,290.3 834.0,289.8 836.0,289.2 838.0,288.7 840.0,288.2 842.0,287.6 844.0,287.1 848.0,286.2 852.0,285.7 856.0,286.0 860.0,286.7 862.5,287.0 866.0,287.3 870.0,287.5 874.0,287.8 878.0,288.5 880.3,289.0 884.0,290.0 886.0,290.5 888.0,291.1 890.0,291.7 892.0,292.3 894.0,293.0 896.0,293.6 898.0,294.2 900.0,294.9 902.0,295.4 906.0,296.2 910.0,296.0 912.0,295.4 914.0,294.5 916.0,293.4 918.0,292.1 919.8,291.0 922.0,289.4 924.0,288.0 926.0,286.4 927.9,285.0 930.0,283.4 932.0,281.9 934.0,280.7 936.0,279.6 938.0,278.7 940.0,278.0 942.0,277.4 944.0,276.8 946.0,276.2 948.0,275.6 950.0,275.1 954.0,274.2 958.0,273.6 962.0,273.3 966.0,273.1 969.0,273.0Z"/>
<path fill="#929A9C" d="M959.4,287.0 962.0,286.6 966.0,286.4 970.0,286.4 974.0,286.6 978.0,286.8 980.4,287.0 984.0,287.4 988.0,288.0 992.0,288.9 996.0,289.9 998.0,290.4 1000.0,291.0 1002.0,291.6 1004.0,292.2 1006.0,292.9 1008.0,293.7 1010.0,294.5 1012.0,295.4 1014.0,296.3 1016.0,297.2 1018.0,298.2 1020.0,299.2 1022.0,300.4 1024.0,301.8 1025.6,303.0 1028.0,305.0 1030.0,306.9 1032.0,308.8 1034.0,311.0 1035.4,313.0 1036.4,315.0 1037.1,317.0 1037.3,321.0 1036.1,325.0 1035.0,327.0 1034.0,328.7 1032.5,331.0 1031.0,333.0 1029.3,335.0 1028.0,336.4 1026.0,338.2 1024.0,340.0 1022.0,341.6 1020.4,343.0 1018.0,344.8 1016.0,346.2 1014.0,347.4 1012.0,348.5 1010.0,349.5 1008.0,350.4 1006.0,351.3 1004.0,352.2 1002.2,353.0 1000.0,353.9 998.0,354.7 996.0,355.4 994.0,356.0 992.0,356.5 988.0,357.5 984.0,358.3 980.0,359.0 976.0,359.5 972.0,359.6 968.0,359.6 964.0,359.4 960.0,359.1 956.0,358.6 952.0,357.7 950.0,357.2 948.0,356.6 946.0,355.9 944.0,355.3 942.0,354.6 940.0,353.9 938.0,353.2 936.0,352.3 934.0,351.4 932.0,350.2 930.2,349.0 928.0,347.3 926.0,345.8 924.0,344.2 922.4,343.0 920.0,341.3 918.0,340.3 914.0,340.2 912.0,341.2 910.0,342.7 908.0,344.5 906.0,346.3 904.0,348.1 902.0,349.7 900.5,351.0 898.1,353.0 896.0,354.8 894.0,356.7 892.0,358.8 890.2,361.0 888.8,363.0 887.4,365.0 886.1,367.0 885.1,369.0 884.3,371.0 883.7,373.0 883.0,377.0 882.7,381.0 882.9,385.0 883.6,389.0 884.2,391.0 884.8,393.0 885.5,395.0 886.3,397.0 887.1,399.0 888.0,400.9 889.1,403.0 890.0,404.7 891.3,407.0 892.5,409.0 893.7,411.0 894.8,413.0 895.8,415.0 896.6,417.0 897.1,419.0 896.8,423.0 895.5,425.0 894.0,426.3 892.0,427.5 890.0,428.3 888.0,429.0 884.0,429.7 880.0,430.0 876.0,430.0 872.0,429.6 869.6,429.0 866.0,427.6 864.0,426.7 862.0,425.5 860.0,424.1 858.0,422.3 856.0,420.1 854.0,417.7 852.0,415.0 850.7,413.0 849.4,411.0 848.3,409.0 847.3,407.0 846.3,405.0 845.3,403.0 844.3,401.0 843.3,399.0 842.3,397.0 841.2,395.0 840.1,393.0 839.0,391.0 838.0,389.3 836.7,387.0 835.5,385.0 834.3,383.0 833.1,381.0 832.0,379.3 830.6,377.0 829.3,375.0 828.1,373.0 826.9,371.0 825.7,369.0 824.6,367.0 823.5,365.0 822.4,363.0 821.3,361.0 820.1,359.0 819.1,357.0 818.0,355.0 817.1,353.0 816.2,351.0 815.5,349.0 814.8,347.0 814.1,345.0 813.5,343.0 812.9,341.0 812.1,337.0 812.1,333.0 812.7,329.0 813.6,325.0 814.2,323.0 815.0,321.0 816.0,319.0 817.2,317.0 818.7,315.0 820.0,313.5 822.0,311.3 824.0,309.3 826.0,307.6 828.0,306.2 830.0,305.0 832.0,304.0 834.0,303.1 836.0,302.2 838.0,301.4 840.0,300.5 842.0,299.7 844.0,299.1 846.0,298.5 850.0,297.8 854.0,297.4 858.0,297.1 862.0,297.0 866.0,297.3 870.0,298.2 872.0,298.8 874.0,299.5 876.0,300.3 877.8,301.0 880.0,301.9 882.0,302.9 884.0,304.1 886.0,305.4 888.0,306.9 890.0,308.5 892.0,310.1 894.0,311.4 896.0,312.6 898.0,313.5 900.0,314.3 902.0,315.0 904.0,315.6 908.0,316.4 912.0,316.4 914.0,315.8 916.0,314.7 918.0,313.1 920.0,311.2 922.0,309.0 923.8,307.0 925.7,305.0 927.7,303.0 930.0,301.0 932.0,299.4 934.0,297.8 936.0,296.2 937.6,295.0 940.0,293.4 942.0,292.2 944.0,291.2 946.0,290.4 948.0,289.8 950.0,289.2 952.0,288.7 954.0,288.2 958.0,287.2ZM699.5,335.0 702.0,334.8 706.0,335.0 710.0,335.6 714.0,336.6 716.0,337.3 718.0,338.4 720.0,339.8 722.0,341.6 723.3,343.0 725.1,345.0 726.6,347.0 727.9,349.0 728.9,351.0 729.7,353.0 730.4,355.0 731.2,359.0 731.4,363.0 731.0,367.0 730.3,371.0 729.7,373.0 728.8,375.0 727.7,377.0 726.2,379.0 724.4,381.0 722.2,383.0 720.0,384.7 718.0,385.9 716.0,386.7 712.0,387.2 708.0,386.1 706.2,385.0 704.0,383.4 702.0,381.7 700.0,379.8 698.0,377.8 696.0,375.5 694.1,373.0 692.7,371.0 691.5,369.0 690.3,367.0 689.2,365.0 688.3,363.0 687.6,361.0 687.1,359.0 686.5,355.0 686.5,351.0 687.2,347.0 687.8,345.0 688.7,343.0 689.8,341.0 691.4,339.0 693.8,337.0 696.0,335.9 698.0,335.3ZM552.5,397.0 556.0,396.6 560.0,396.1 564.0,395.7 568.0,395.5 572.0,395.8 576.0,396.5 578.3,397.0 582.0,397.9 584.0,398.5 586.0,399.0 588.0,399.7 590.0,400.5 592.0,401.5 594.0,402.6 596.0,403.9 597.7,405.0 600.0,406.6 602.0,408.0 604.0,409.7 605.4,411.0 607.3,413.0 608.9,415.0 610.5,417.0 612.0,419.0 613.4,421.0 614.8,423.0 616.0,425.0 617.1,427.0 618.0,428.8 619.1,431.0 619.9,433.0 620.8,435.0 621.6,437.0 622.4,439.0 623.2,441.0 623.9,443.0 624.5,445.0 625.1,447.0 625.7,449.0 626.3,451.0 626.8,453.0 627.3,455.0 627.9,457.0 628.4,459.0 629.0,461.0 629.5,463.0 630.1,465.0 630.7,467.0 631.3,469.0 632.0,471.0 632.7,473.0 633.5,475.0 634.5,477.0 635.5,479.0 636.6,481.0 637.6,483.0 638.7,485.0 639.8,487.0 640.8,489.0 641.7,491.0 642.4,493.0 643.0,495.0 643.9,499.0 644.5,503.0 644.6,507.0 644.0,510.6 643.4,513.0 642.7,515.0 642.0,516.9 641.2,519.0 640.2,521.0 639.1,523.0 638.0,524.8 636.4,527.0 634.9,529.0 633.3,531.0 632.0,532.6 630.0,534.9 628.1,537.0 626.2,539.0 624.4,541.0 622.8,543.0 621.7,545.0 621.1,547.0 620.9,551.0 621.7,555.0 622.2,557.0 623.0,559.0 623.9,561.0 625.0,563.0 626.0,564.6 627.6,567.0 628.8,569.0 630.0,571.0 630.9,573.0 631.6,575.0 632.1,577.0 633.1,581.0 633.9,585.0 634.6,589.0 635.1,593.0 635.4,597.0 635.6,601.0 636.0,605.0 636.8,607.0 638.7,609.0 641.3,611.0 644.0,613.0 646.0,614.3 648.0,615.4 650.0,616.5 652.0,617.4 654.0,618.3 655.8,619.0 658.0,619.6 662.0,620.2 666.0,620.2 670.0,620.0 674.0,619.7 678.0,619.4 682.0,619.1 686.0,618.7 690.0,618.0 694.0,617.2 696.0,616.6 698.0,616.0 700.0,615.3 702.0,614.5 704.0,613.5 706.0,612.1 708.0,610.0 709.4,607.0 709.8,603.0 710.0,599.2 710.4,595.0 710.8,591.0 711.3,587.0 711.4,583.0 710.7,579.0 710.0,577.0 709.2,575.0 708.3,573.0 707.4,571.0 706.6,569.0 706.0,567.0 705.5,565.0 704.7,561.0 704.2,557.0 704.0,553.8 703.9,551.0 704.2,547.0 704.8,543.0 705.6,539.0 706.5,535.0 707.1,533.0 707.9,531.0 708.8,529.0 709.8,527.0 711.0,525.0 712.0,523.4 713.6,521.0 715.3,519.0 717.6,517.0 720.0,515.5 722.0,514.6 724.0,513.8 726.0,513.1 728.0,512.4 730.0,511.7 732.0,511.1 734.0,510.6 738.0,509.7 741.9,509.0 744.0,508.6 748.0,507.9 752.0,507.4 756.0,507.1 760.0,506.9 764.0,506.7 768.0,506.6 772.0,506.6 776.0,506.6 780.0,506.8 784.0,506.9 788.0,507.0 792.0,507.2 796.0,507.6 800.0,508.2 803.5,509.0 806.0,509.7 808.0,510.3 809.9,511.0 812.0,511.8 814.0,512.5 816.0,513.3 818.0,514.2 820.0,515.3 822.0,516.6 824.0,518.5 826.0,520.9 827.4,523.0 828.4,525.0 829.3,527.0 829.9,529.0 830.5,533.0 830.9,537.0 831.1,541.0 831.1,545.0 830.7,549.0 830.1,553.0 829.4,557.0 828.7,561.0 828.0,565.0 827.2,569.0 826.3,573.0 825.6,575.0 824.9,577.0 824.1,579.0 823.1,581.0 822.1,583.0 821.1,585.0 820.1,587.0 819.1,589.0 818.0,591.0 816.8,593.0 815.5,595.0 814.0,596.9 812.1,599.0 810.1,601.0 808.0,602.9 806.0,604.6 804.0,606.0 802.4,607.0 800.0,608.4 798.0,609.4 796.0,610.4 794.0,611.3 792.0,612.3 790.0,613.1 788.0,614.0 786.0,614.6 784.0,615.2 782.0,615.8 778.0,616.7 774.0,617.8 772.0,618.4 770.0,619.4 768.0,620.8 766.0,622.8 764.2,625.0 762.4,627.0 761.3,629.0 762.6,631.0 764.0,632.1 766.0,633.6 768.0,634.7 770.0,635.7 772.0,636.5 774.0,637.2 776.0,637.7 780.0,638.7 784.0,639.7 786.0,640.2 788.0,640.9 790.0,641.7 792.0,642.6 794.0,643.6 796.0,644.8 798.0,645.8 802.0,645.3 804.0,643.3 805.8,641.0 807.6,639.0 809.8,637.0 812.0,635.5 814.0,634.5 816.0,633.7 818.0,632.9 820.0,632.2 822.0,631.7 825.4,631.0 828.0,630.6 832.0,630.3 836.0,630.1 840.0,630.0 844.0,630.1 848.0,630.6 850.6,631.0 854.0,631.7 858.0,632.5 860.5,633.0 864.0,633.8 866.0,634.4 868.0,635.1 870.0,635.8 872.0,636.6 874.0,637.4 876.0,638.3 877.8,639.0 880.0,640.0 882.0,640.8 884.0,641.8 886.0,642.7 888.0,643.8 890.0,644.9 892.0,646.0 893.6,647.0 896.0,648.5 898.0,649.8 899.7,651.0 902.0,652.7 904.0,654.3 906.0,656.0 908.0,657.9 910.0,659.8 912.0,661.9 914.0,664.1 916.0,666.9 917.1,669.0 917.7,671.0 917.7,675.0 917.1,677.0 916.3,679.0 915.4,681.0 914.5,683.0 913.7,685.0 912.8,687.0 912.0,688.8 910.7,691.0 909.5,693.0 908.1,695.0 906.4,697.0 904.0,698.9 902.0,700.5 900.1,703.0 899.4,705.0 899.4,709.0 900.0,711.5 901.4,715.0 902.4,717.0 903.4,719.0 904.4,721.0 905.2,723.0 905.9,725.0 906.6,727.0 907.3,729.0 907.9,731.0 908.5,733.0 909.0,735.0 909.8,739.0 910.0,742.9 909.8,747.0 909.5,751.0 909.2,755.0 909.2,759.0 909.4,763.0 909.7,767.0 910.0,769.6 910.8,773.0 911.4,775.0 912.2,777.0 913.1,779.0 914.0,781.0 914.8,783.0 915.6,785.0 916.5,787.0 917.5,789.0 918.6,791.0 919.5,793.0 920.1,795.0 920.0,798.3 918.7,801.0 917.0,803.0 914.4,805.0 912.0,806.1 910.0,806.8 906.0,807.7 902.0,808.3 898.0,808.5 894.0,808.3 890.0,808.4 886.0,808.6 882.0,808.7 878.0,808.7 874.0,808.6 870.0,808.4 866.0,808.2 862.0,807.7 858.0,807.1 854.0,806.4 850.0,805.6 847.6,805.0 844.0,804.0 842.0,803.3 840.0,802.6 838.0,801.7 836.0,800.7 834.0,799.5 832.0,798.1 830.5,797.0 828.3,795.0 826.5,793.0 825.1,791.0 824.0,789.1 823.2,787.0 822.6,785.0 822.1,781.0 822.1,777.0 822.5,773.0 823.2,769.0 824.0,765.3 824.5,763.0 825.0,761.0 825.6,759.0 826.2,757.0 826.9,755.0 827.5,753.0 828.2,751.0 828.8,749.0 829.5,747.0 830.2,745.0 830.9,743.0 831.5,741.0 832.2,739.0 833.0,737.0 833.9,735.0 834.9,733.0 836.0,731.0 837.2,729.0 838.5,727.0 839.7,725.0 841.0,723.0 842.0,721.4 843.4,719.0 844.3,717.0 844.9,715.0 845.2,711.0 844.0,707.2 842.5,705.0 840.7,703.0 838.3,701.0 836.0,699.4 834.0,698.2 832.1,697.0 830.0,695.7 828.0,694.5 826.0,693.3 824.0,692.2 822.0,691.0 820.0,689.8 818.0,688.7 816.0,687.5 814.0,686.4 812.0,685.3 810.0,684.1 808.2,683.0 806.0,681.5 804.0,680.0 802.0,678.1 800.0,675.9 798.0,673.8 796.0,672.8 792.0,673.0 788.0,673.8 784.0,674.7 782.0,675.2 780.0,675.8 778.0,676.6 776.0,677.5 774.0,678.7 772.0,680.0 770.0,681.6 768.5,683.0 766.4,685.0 764.5,687.0 762.7,689.0 760.9,691.0 759.1,693.0 757.3,695.0 756.0,696.5 754.0,698.7 752.0,700.9 750.0,703.0 748.1,705.0 746.0,707.0 744.0,708.9 742.0,710.7 740.0,712.3 738.0,713.9 736.4,715.0 734.0,716.7 732.0,718.0 730.2,719.0 728.0,720.2 726.0,721.2 724.0,722.1 722.0,722.9 720.0,723.5 718.0,724.1 714.2,725.0 712.0,725.4 708.0,725.9 704.0,726.2 700.0,726.4 696.0,726.4 692.0,726.2 688.0,725.7 684.1,725.0 682.0,724.5 680.0,723.9 678.0,723.2 676.0,722.5 674.0,721.9 672.0,721.2 668.0,720.4 664.0,719.9 660.0,719.6 656.0,719.3 652.0,719.0 648.0,718.7 644.0,718.4 640.0,718.1 636.0,717.8 632.0,717.4 629.1,717.0 626.0,716.4 624.0,715.8 622.0,715.1 620.0,714.4 618.0,713.6 616.0,712.8 614.0,712.0 612.0,711.2 610.0,710.2 608.0,709.2 606.0,707.9 604.0,706.3 602.5,705.0 600.4,703.0 598.3,701.0 596.0,699.0 594.0,697.4 592.0,696.1 590.3,695.0 588.0,693.6 586.0,692.5 584.0,691.4 582.0,690.4 580.0,689.3 578.0,688.4 576.0,687.5 574.0,686.7 572.0,686.0 570.0,685.3 568.0,684.7 566.0,684.0 564.0,683.4 562.0,682.7 560.0,682.0 558.0,681.3 556.0,680.6 554.0,679.9 552.0,679.0 550.0,678.2 548.0,677.3 546.0,676.4 544.0,675.5 542.0,674.6 540.0,673.7 538.0,672.8 536.0,671.9 534.4,671.0 532.0,669.6 530.0,668.3 528.3,667.0 526.0,665.2 524.0,663.5 522.0,661.8 520.0,660.0 518.0,658.0 516.0,655.8 514.0,653.2 512.5,651.0 511.2,649.0 510.0,647.0 509.0,645.0 508.1,643.0 507.5,641.0 506.8,637.0 506.5,633.0 506.5,629.0 506.8,625.0 507.7,621.0 508.2,619.0 508.9,617.0 509.8,615.0 511.1,613.0 512.8,611.0 515.1,609.0 517.6,607.0 519.8,605.0 521.6,603.0 523.3,601.0 525.2,599.0 527.3,597.0 529.7,595.0 532.0,593.2 534.0,591.6 536.0,590.1 537.5,589.0 540.0,587.2 542.0,585.9 544.0,584.6 546.0,583.4 548.0,582.2 550.0,581.1 552.0,579.8 554.0,578.5 556.0,577.2 558.0,575.9 560.0,574.5 562.0,573.2 564.0,571.9 566.0,571.0 568.0,570.0 570.0,569.0 572.0,567.0 572.2,563.0 571.3,561.0 570.1,559.0 568.9,557.0 567.7,555.0 566.6,553.0 565.4,551.0 564.2,549.0 562.9,547.0 561.3,545.0 559.1,543.0 556.1,541.0 554.0,540.0 552.0,539.0 550.0,538.1 548.0,537.3 546.0,536.4 544.0,535.5 542.0,534.5 540.0,533.5 538.0,532.5 536.0,531.4 534.0,530.3 532.0,529.2 530.0,528.0 528.0,526.6 526.0,525.0 524.0,523.0 522.5,521.0 521.2,519.0 520.0,517.0 518.9,515.0 518.0,513.3 516.9,511.0 516.1,509.0 515.3,507.0 514.6,505.0 514.0,503.0 513.4,501.0 512.8,499.0 512.2,497.0 511.6,495.0 511.0,493.0 510.4,491.0 509.8,489.0 509.2,487.0 508.7,485.0 508.2,483.0 507.6,481.0 507.1,479.0 506.6,477.0 506.0,474.6 505.2,471.0 504.5,467.0 504.0,464.2 503.5,461.0 503.0,457.0 502.7,453.0 502.7,449.0 503.1,445.0 503.7,441.0 504.5,437.0 505.1,435.0 505.9,433.0 506.8,431.0 507.9,429.0 509.0,427.0 510.0,425.3 511.4,423.0 512.7,421.0 514.0,419.1 515.8,417.0 517.7,415.0 519.9,413.0 522.0,411.3 524.0,409.7 526.0,408.1 527.5,407.0 530.0,405.4 532.0,404.2 534.0,403.2 536.0,402.3 538.0,401.5 540.0,400.6 542.0,399.8 544.0,399.1 546.0,398.4 548.0,397.9 552.0,397.1ZM699.0,433.0 702.0,432.3 706.0,432.4 708.7,433.0 712.0,433.9 714.0,434.6 716.0,435.7 717.6,437.0 718.7,439.0 718.4,443.0 716.9,445.0 714.4,447.0 712.0,448.2 710.3,449.0 708.0,449.7 704.0,450.4 700.0,450.5 696.0,449.8 694.1,449.0 692.0,447.5 690.2,445.0 689.9,441.0 690.9,439.0 692.6,437.0 694.0,435.8 696.0,434.4 698.0,433.4ZM371.4,493.0 374.0,492.8 378.0,492.8 381.8,493.0 386.0,493.2 390.0,493.4 394.0,493.8 398.0,494.3 401.9,495.0 406.0,495.7 410.0,496.5 412.6,497.0 416.0,497.7 418.0,498.3 420.0,498.9 422.0,499.6 424.0,500.4 426.0,501.2 428.0,502.1 430.0,503.0 432.0,503.8 434.0,504.7 436.0,505.5 438.0,506.4 440.0,507.3 442.0,508.2 444.0,509.2 446.0,510.4 448.0,511.7 449.9,513.0 452.0,514.6 454.0,516.0 456.0,517.5 457.9,519.0 460.0,520.6 462.0,522.2 464.0,524.0 466.0,526.0 468.0,528.3 470.0,531.0 471.4,533.0 472.8,535.0 474.0,536.8 475.5,539.0 476.7,541.0 477.7,543.0 478.5,545.0 479.1,547.0 479.6,551.0 479.2,555.0 478.2,559.0 477.5,561.0 476.7,563.0 475.7,565.0 474.4,567.0 472.8,569.0 470.9,571.0 468.7,573.0 466.3,575.0 464.0,576.8 462.0,578.2 460.0,579.5 458.0,580.5 456.0,581.5 454.0,582.3 452.0,583.1 450.0,583.8 448.0,584.6 446.0,585.3 444.0,586.0 442.0,586.6 440.0,587.1 436.0,587.8 432.0,588.4 428.0,588.8 424.0,589.3 420.0,589.8 416.0,590.2 412.0,590.4 408.0,590.5 404.0,590.4 400.0,590.4 396.0,590.4 392.0,590.4 388.0,590.3 384.0,589.9 380.0,589.3 376.0,588.5 372.0,587.8 368.0,587.0 364.0,586.2 362.0,585.7 360.0,585.0 358.0,584.3 356.0,583.5 354.0,582.6 352.0,581.6 350.0,580.7 348.0,579.7 346.0,578.7 344.0,577.6 342.0,576.3 340.3,575.0 338.1,573.0 336.2,571.0 334.6,569.0 333.0,567.0 331.5,565.0 330.2,563.0 329.1,561.0 328.2,559.0 327.5,557.0 326.9,555.0 326.4,551.0 326.4,547.0 326.8,543.0 327.3,539.0 328.0,535.6 328.9,533.0 329.7,531.0 330.8,529.0 331.9,527.0 333.1,525.0 334.3,523.0 335.5,521.0 336.8,519.0 338.0,517.3 339.7,515.0 341.4,513.0 343.0,511.0 344.8,509.0 346.0,507.5 348.0,505.3 350.0,503.1 352.0,501.3 354.0,499.7 356.0,498.5 358.0,497.5 360.0,496.6 362.0,495.7 363.8,495.0 366.0,494.2 368.0,493.6 371.4,493.0ZM995.5,615.0 998.0,614.3 1002.0,613.5 1006.0,613.1 1010.0,613.5 1012.0,614.1 1014.0,614.9 1016.0,616.0 1018.0,617.7 1019.3,619.0 1020.9,621.0 1022.0,622.7 1023.3,625.0 1024.3,627.0 1025.0,629.0 1025.6,631.0 1026.4,635.0 1026.9,639.0 1027.0,643.0 1026.7,647.0 1026.1,651.0 1025.2,655.0 1024.2,659.0 1023.7,661.0 1023.0,663.0 1022.4,665.0 1021.7,667.0 1021.1,669.0 1020.6,671.0 1020.0,673.9 1019.5,677.0 1019.1,681.0 1018.6,685.0 1018.1,689.0 1017.1,693.0 1016.4,695.0 1015.4,697.0 1014.1,699.0 1012.0,701.0 1010.0,702.4 1008.0,703.5 1006.0,704.3 1004.0,704.9 1000.0,705.5 996.0,705.2 992.0,704.5 990.0,704.0 988.0,703.4 986.0,702.6 984.0,701.6 982.0,700.6 980.0,699.4 978.0,698.2 976.0,697.0 974.0,695.7 972.0,694.3 970.3,693.0 968.0,691.2 966.0,689.6 964.0,687.8 962.0,685.9 960.0,683.7 958.0,681.1 956.6,679.0 955.5,677.0 954.5,675.0 953.7,673.0 953.2,671.0 953.0,667.0 953.5,663.0 954.0,661.0 954.5,659.0 955.3,657.0 956.1,655.0 957.0,653.0 958.0,651.2 959.1,649.0 960.2,647.0 961.4,645.0 962.7,643.0 964.0,641.3 965.7,639.0 967.4,637.0 969.1,635.0 970.8,633.0 972.0,631.6 974.0,629.5 976.0,627.5 978.0,625.8 980.0,624.2 981.5,623.0 984.0,621.1 986.0,619.7 988.0,618.4 990.0,617.2 992.0,616.3 994.0,615.5ZM584.0,735.0 588.0,734.7 592.0,734.8 595.9,735.0 600.0,735.5 604.0,736.2 606.0,736.8 608.0,737.7 610.0,738.7 612.0,739.9 613.9,741.0 616.0,742.5 618.0,744.1 620.0,746.4 621.6,749.0 622.4,751.0 623.1,753.0 623.6,755.0 624.3,759.0 624.0,763.0 623.1,767.0 622.4,769.0 621.6,771.0 620.7,773.0 619.6,775.0 618.1,777.0 616.4,779.0 614.5,781.0 612.5,783.0 610.3,785.0 608.0,786.9 606.0,788.3 604.0,789.6 602.0,790.8 600.0,792.0 598.2,793.0 596.0,794.2 594.0,795.2 592.0,796.2 590.0,797.0 588.0,797.6 586.0,798.2 582.3,799.0 580.0,799.5 576.0,800.3 572.3,801.0 570.0,801.4 566.0,802.0 562.0,802.4 558.0,802.5 554.0,802.6 550.0,802.6 546.0,802.6 542.0,802.4 538.0,801.9 534.0,801.2 530.0,800.4 526.0,799.6 523.0,799.0 520.0,798.3 516.0,797.3 514.0,796.6 512.0,795.9 510.0,795.1 508.0,794.1 506.0,793.1 504.0,792.0 502.0,790.6 500.1,789.0 498.3,787.0 496.8,785.0 495.5,783.0 494.6,781.0 493.9,779.0 493.6,775.0 494.7,771.0 495.6,769.0 497.0,767.0 498.7,765.0 501.0,763.0 503.8,761.0 506.0,759.5 508.0,758.3 510.0,757.1 512.0,756.1 514.0,755.1 516.0,754.3 518.0,753.5 520.0,752.8 522.0,752.2 524.0,751.5 526.0,750.8 528.0,750.1 530.0,749.5 532.0,748.8 534.0,748.2 536.0,747.5 538.0,746.9 540.0,746.3 542.0,745.7 544.0,745.2 546.0,744.6 548.0,744.0 550.0,743.4 552.0,742.8 554.0,742.3 556.0,741.7 558.0,741.1 560.0,740.6 562.0,740.1 564.0,739.6 566.0,739.1 570.0,738.1 574.0,737.1 578.0,736.2 582.0,735.3ZM1108.9,751.0 1112.0,750.3 1116.0,750.0 1120.0,750.4 1122.6,751.0 1126.0,752.5 1128.0,753.8 1129.3,755.0 1130.9,757.0 1131.7,759.0 1131.7,763.0 1130.9,765.0 1129.5,767.0 1128.0,768.4 1126.0,769.7 1124.0,770.7 1122.0,771.4 1118.0,772.2 1114.0,772.3 1110.0,771.7 1108.0,771.1 1106.0,770.1 1104.2,769.0 1102.1,767.0 1100.7,765.0 1100.0,763.1 1100.0,759.0 1100.8,757.0 1102.0,755.3 1104.0,753.5 1106.0,752.2 1108.0,751.3ZM998.2,769.0 1002.0,767.9 1006.0,767.4 1010.0,767.4 1014.0,768.1 1016.0,768.8 1018.0,769.8 1019.9,771.0 1021.9,773.0 1023.2,775.0 1024.0,777.0 1024.4,781.0 1024.0,783.3 1022.6,787.0 1021.4,789.0 1020.0,790.9 1018.0,793.0 1016.0,794.6 1014.0,795.9 1012.1,797.0 1010.0,798.0 1008.0,798.8 1006.0,799.4 1002.0,800.1 998.0,800.3 994.0,800.0 990.1,799.0 988.0,798.0 986.2,797.0 984.0,795.2 982.1,793.0 981.1,791.0 980.6,787.0 981.8,783.0 982.9,781.0 984.0,779.4 986.0,777.0 988.0,775.1 990.0,773.4 992.0,772.1 993.8,771.0 996.0,769.9 998.0,769.1Z"/>
<path fill="#798289" d="M962.4,301.0 966.0,300.2 970.0,299.7 974.0,299.8 978.0,300.2 982.0,300.8 986.0,301.8 988.0,302.6 990.0,303.5 992.0,304.7 994.0,306.0 996.0,307.5 997.8,309.0 999.8,311.0 1001.2,313.0 1002.0,314.8 1002.6,317.0 1002.5,321.0 1002.0,323.0 1001.2,325.0 1000.2,327.0 999.0,329.0 997.6,331.0 996.0,333.0 994.0,335.0 992.0,336.6 990.0,337.9 988.3,339.0 986.0,340.3 984.0,341.4 982.0,342.3 980.2,343.0 978.0,343.6 974.0,344.5 970.8,345.0 968.0,345.3 964.0,345.4 960.1,345.0 958.0,344.5 956.0,343.9 954.0,343.3 952.0,342.6 950.0,341.8 948.0,340.8 946.0,339.6 944.0,338.1 942.0,336.1 940.0,333.1 939.2,331.0 938.7,329.0 938.4,325.0 939.0,321.0 939.7,319.0 940.6,317.0 941.8,315.0 943.3,313.0 945.1,311.0 947.1,309.0 949.3,307.0 952.0,305.0 954.0,303.9 956.0,303.0 958.0,302.3 960.0,301.7 962.0,301.1ZM849.2,307.0 852.0,306.1 856.0,305.3 860.0,305.1 864.0,305.7 866.0,306.5 868.0,307.9 869.4,309.0 871.3,311.0 872.9,313.0 874.0,314.7 875.2,317.0 875.9,319.0 876.5,321.0 877.3,325.0 877.7,329.0 877.7,333.0 877.1,337.0 876.1,341.0 875.5,343.0 874.8,345.0 874.0,346.9 872.9,349.0 871.5,351.0 870.0,352.7 868.0,354.7 866.0,356.5 864.0,358.2 862.0,359.6 860.0,360.9 858.0,361.8 856.0,362.3 852.0,361.9 850.0,361.1 848.0,359.9 846.0,358.6 844.0,357.2 842.0,355.8 840.0,354.4 838.2,353.0 836.1,351.0 834.7,349.0 833.6,347.0 832.7,345.0 832.1,343.0 831.5,339.0 831.7,335.0 832.5,331.0 833.5,327.0 834.0,325.0 834.7,323.0 835.5,321.0 836.5,319.0 837.8,317.0 839.4,315.0 841.4,313.0 843.5,311.0 845.9,309.0 848.0,307.7ZM548.0,419.0 552.0,418.4 556.0,418.0 560.0,417.8 564.0,417.7 568.0,418.0 572.0,418.9 574.0,419.5 576.0,420.2 578.0,420.9 580.0,421.9 582.0,423.0 584.0,424.5 586.0,426.3 588.0,428.3 590.0,430.7 591.7,433.0 593.0,435.0 593.9,437.0 594.7,439.0 595.3,441.0 595.9,443.0 596.7,447.0 597.3,451.0 597.6,455.0 597.7,459.0 597.7,463.0 597.8,467.0 598.0,469.4 598.5,473.0 599.5,477.0 600.4,479.0 601.5,481.0 603.0,483.0 604.7,485.0 606.0,486.3 608.0,488.3 610.0,490.4 612.0,492.6 613.9,495.0 615.0,497.0 615.9,499.0 616.5,503.0 616.0,505.9 614.3,509.0 612.3,511.0 610.0,512.5 608.0,513.4 606.0,514.1 604.0,514.6 600.0,515.2 596.0,515.6 592.0,515.8 588.0,515.9 584.0,515.8 580.0,515.5 576.0,515.0 572.0,514.5 568.0,513.9 564.4,513.0 562.0,512.3 560.0,511.5 558.0,510.8 556.0,509.9 554.0,509.0 552.0,508.0 550.4,507.0 548.0,505.2 546.0,503.5 544.0,501.6 542.0,499.6 540.0,497.4 538.0,495.1 536.3,493.0 534.9,491.0 533.5,489.0 532.1,487.0 530.8,485.0 529.6,483.0 528.4,481.0 527.3,479.0 526.2,477.0 525.3,475.0 524.3,473.0 523.4,471.0 522.6,469.0 521.9,467.0 521.3,465.0 520.8,463.0 520.0,459.3 519.6,457.0 519.3,453.0 519.5,449.0 520.0,445.0 520.9,441.0 521.6,439.0 522.4,437.0 523.6,435.0 524.9,433.0 526.0,431.5 528.0,429.2 530.0,427.1 532.0,425.5 534.0,424.2 536.0,423.2 538.0,422.3 540.0,421.5 542.0,420.8 544.0,420.1 546.0,419.5 548.0,419.0ZM385.0,517.0 388.0,516.7 392.0,516.4 396.0,516.1 400.0,515.8 404.0,515.5 408.0,515.2 412.0,515.0 416.0,515.1 420.0,515.5 424.0,516.1 428.0,516.8 432.0,517.4 436.0,518.3 438.0,518.8 440.0,519.6 442.0,520.5 444.0,521.7 446.0,523.0 448.0,524.5 450.0,526.1 452.0,527.9 454.0,530.0 456.0,532.5 457.6,535.0 458.6,537.0 459.5,539.0 460.2,541.0 460.8,543.0 461.4,545.0 462.0,548.5 462.2,551.0 462.0,553.3 461.2,557.0 460.5,559.0 459.6,561.0 458.4,563.0 457.1,565.0 455.4,567.0 454.0,568.4 452.0,570.2 450.0,571.6 448.0,572.8 446.0,573.9 444.0,574.8 442.0,575.6 440.0,576.3 438.0,576.8 436.0,577.4 432.0,578.2 428.0,579.0 424.0,579.8 420.0,580.5 416.3,581.0 414.0,581.2 410.0,581.3 406.0,581.2 402.0,581.2 398.0,581.1 394.0,581.1 390.1,581.0 386.0,580.7 382.0,580.1 378.0,579.3 374.0,578.6 370.0,577.7 368.0,577.2 366.0,576.6 364.0,575.9 362.0,575.1 360.0,574.2 358.0,573.3 356.0,572.2 354.0,571.2 352.0,570.0 350.4,569.0 348.0,567.2 346.0,565.5 344.0,563.4 342.1,561.0 340.7,559.0 339.7,557.0 338.9,555.0 338.2,551.0 338.6,547.0 339.1,545.0 339.9,543.0 340.8,541.0 341.9,539.0 343.2,537.0 344.8,535.0 346.0,533.6 348.0,531.6 350.0,529.9 352.0,528.3 354.0,527.0 356.0,525.7 358.0,524.6 360.0,523.7 362.0,522.8 364.0,522.0 366.0,521.3 368.0,520.7 370.0,520.1 372.0,519.5 374.0,519.0 376.0,518.5 380.0,517.7 384.0,517.1ZM761.2,521.0 764.0,520.5 768.0,520.0 772.0,519.7 776.0,519.5 780.0,519.3 784.0,519.2 788.0,519.3 792.0,519.7 796.0,520.6 798.0,521.1 800.0,521.7 802.0,522.4 804.0,523.2 806.0,524.3 808.0,525.9 810.0,528.1 811.8,531.0 812.9,533.0 813.7,535.0 814.3,537.0 815.0,541.0 814.9,545.0 814.6,549.0 814.1,553.0 813.3,557.0 812.7,559.0 812.1,561.0 811.4,563.0 810.7,565.0 810.0,566.8 809.1,569.0 808.2,571.0 807.1,573.0 806.0,574.6 804.3,577.0 802.6,579.0 800.9,581.0 799.1,583.0 797.2,585.0 794.9,587.0 792.1,589.0 790.0,590.2 788.0,591.3 786.0,592.3 784.0,593.3 782.0,594.2 780.0,595.0 778.0,595.7 776.0,596.2 772.0,596.9 768.0,597.3 764.0,597.6 760.0,597.6 756.0,597.3 752.0,596.6 748.0,595.7 745.1,595.0 742.0,594.1 740.0,593.4 738.0,592.4 736.0,591.2 734.0,589.7 732.0,587.9 730.0,585.9 728.0,583.7 726.0,581.5 724.1,579.0 722.8,577.0 721.7,575.0 720.6,573.0 719.7,571.0 718.8,569.0 718.0,567.0 717.4,565.0 716.8,561.0 716.8,557.0 717.5,553.0 718.2,551.0 719.0,549.0 720.0,547.0 721.0,545.0 722.0,543.1 723.2,541.0 724.6,539.0 726.0,537.2 728.0,535.3 730.0,533.6 732.0,532.1 733.6,531.0 736.0,529.4 738.0,528.1 739.8,527.0 742.0,525.9 744.0,525.1 746.0,524.4 748.0,523.9 751.7,523.0 754.0,522.5 758.0,521.6 761.2,521.0ZM589.1,583.0 592.0,582.4 596.0,581.9 600.0,582.3 602.0,583.1 604.0,584.3 606.0,586.0 608.0,588.4 609.4,591.0 610.2,593.0 610.9,595.0 611.4,597.0 611.9,599.0 612.8,603.0 613.6,607.0 614.5,611.0 615.0,613.0 615.6,615.0 616.5,617.0 617.5,619.0 618.8,621.0 620.0,622.7 622.0,625.0 624.0,626.8 626.0,628.2 628.0,629.2 630.0,630.0 632.0,630.5 634.7,631.0 638.0,632.1 639.8,633.0 642.0,634.9 644.0,634.3 646.0,633.4 648.0,632.7 650.0,632.2 654.0,631.4 657.3,631.0 660.0,630.7 664.0,630.2 668.0,629.6 671.9,629.0 676.0,628.4 680.0,627.8 684.0,627.3 686.7,627.0 690.0,626.7 694.0,626.3 698.0,626.0 702.0,625.8 706.0,625.9 710.0,626.2 714.0,626.7 718.0,627.4 722.0,628.4 724.0,629.1 726.0,629.8 728.0,630.6 730.0,631.4 732.0,632.3 734.0,633.4 736.0,634.6 738.0,635.9 740.0,637.4 742.0,639.0 744.0,640.6 746.0,642.4 748.0,644.4 750.0,646.8 751.5,649.0 752.8,651.0 754.0,653.0 755.1,655.0 756.0,657.0 756.8,659.0 757.4,661.0 757.9,665.0 757.8,669.0 757.2,673.0 756.6,675.0 755.9,677.0 755.1,679.0 754.0,681.0 753.0,683.0 751.7,685.0 750.5,687.0 749.1,689.0 748.0,690.5 746.1,693.0 744.4,695.0 742.6,697.0 740.7,699.0 738.7,701.0 736.3,703.0 734.0,704.7 732.0,706.0 730.0,707.3 728.0,708.5 726.0,709.6 724.0,710.5 722.0,711.4 720.0,712.1 718.0,712.7 714.0,713.5 710.0,713.8 706.0,713.7 702.0,713.6 698.0,713.5 694.0,713.5 690.0,713.4 686.0,713.3 682.0,713.1 678.0,712.3 676.0,711.7 674.0,711.1 672.0,710.4 670.0,709.8 668.0,709.1 666.0,708.5 664.0,707.7 662.1,707.0 660.0,706.1 658.0,705.2 656.0,704.3 654.0,703.4 652.0,702.5 650.0,701.5 648.0,700.5 646.0,699.5 644.0,698.6 642.0,697.7 640.0,697.0 638.0,696.4 634.0,695.8 630.0,696.1 626.0,695.2 624.0,693.9 622.0,692.6 620.0,691.7 618.0,691.1 616.0,690.5 614.0,689.8 612.1,689.0 610.0,688.0 608.0,687.0 606.0,685.9 604.0,684.7 602.0,683.5 600.0,682.4 598.0,681.3 596.0,680.3 594.0,679.4 592.0,678.5 590.0,677.6 588.0,676.7 586.0,675.8 584.1,675.0 582.0,674.1 580.0,673.3 578.0,672.5 576.0,671.8 574.0,671.1 572.0,670.4 570.0,669.8 568.0,669.2 566.0,668.5 564.0,667.9 562.0,667.2 560.0,666.5 558.0,665.8 556.0,665.1 554.0,664.2 552.0,663.4 550.0,662.4 548.0,661.5 546.0,660.5 544.0,659.6 542.0,658.6 540.0,657.6 538.0,656.4 536.0,655.2 534.0,653.7 532.0,652.0 530.0,650.1 528.0,648.1 526.0,645.8 524.0,643.0 523.1,641.0 522.4,639.0 521.7,635.0 521.7,631.0 522.0,628.6 523.0,625.0 523.9,623.0 525.0,621.0 526.0,619.3 527.6,617.0 529.4,615.0 531.5,613.0 534.0,611.1 536.0,609.9 537.9,609.0 540.0,607.9 541.8,607.0 544.0,605.6 546.0,604.3 547.9,603.0 550.0,601.6 552.0,600.3 554.0,599.1 556.0,597.9 557.7,597.0 560.0,595.9 561.8,595.0 564.0,593.9 566.0,592.8 568.0,591.6 570.0,590.4 572.0,589.3 574.0,588.4 576.0,587.5 578.0,586.6 580.0,585.8 582.0,585.0 584.0,584.3 586.0,583.7 588.0,583.2ZM845.0,649.0 848.0,648.7 852.0,648.7 854.7,649.0 858.0,649.7 860.0,650.3 862.0,651.0 864.0,651.8 866.0,652.7 868.0,653.9 869.5,655.0 871.6,657.0 873.3,659.0 874.6,661.0 875.7,663.0 876.4,665.0 877.1,669.0 876.9,673.0 876.0,676.0 874.1,679.0 872.0,680.8 870.0,681.9 868.0,682.9 866.0,683.6 864.0,684.2 860.5,685.0 858.0,685.4 854.0,685.8 850.0,685.7 846.0,685.4 843.4,685.0 840.0,684.3 838.0,683.8 836.0,683.0 834.0,682.0 832.2,681.0 830.0,679.4 828.0,677.8 826.0,675.6 824.4,673.0 823.7,671.0 823.3,667.0 824.0,663.2 824.9,661.0 826.0,659.2 827.8,657.0 830.0,655.0 832.0,653.6 834.0,652.4 836.0,651.4 838.0,650.6 840.0,650.0 844.0,649.1ZM868.6,731.0 872.0,729.8 876.0,729.5 880.0,730.2 881.8,731.0 884.0,732.3 886.0,733.9 888.0,736.1 889.7,739.0 890.5,741.0 891.1,743.0 891.7,747.0 891.7,751.0 891.4,755.0 891.0,759.0 890.6,763.0 890.1,767.0 889.6,771.0 889.2,775.0 888.8,779.0 888.3,783.0 887.1,787.0 886.1,789.0 884.6,791.0 882.2,793.0 880.0,794.1 878.0,794.9 874.0,795.6 870.0,795.8 866.0,795.6 862.7,795.0 860.0,794.3 858.0,793.8 856.0,793.2 854.0,792.5 852.0,791.7 850.0,790.6 848.0,789.3 846.0,787.7 844.0,785.5 842.3,783.0 841.3,781.0 840.5,779.0 840.0,777.0 839.5,773.0 839.6,769.0 840.0,766.3 840.8,763.0 841.5,761.0 842.3,759.0 843.3,757.0 844.5,755.0 845.8,753.0 847.3,751.0 848.8,749.0 850.0,747.5 852.0,745.1 853.9,743.0 855.7,741.0 857.8,739.0 860.0,737.0 862.0,735.4 864.0,733.8 866.0,732.4 868.0,731.3ZM580.9,757.0 584.0,756.4 585.5,759.0 584.3,761.0 582.4,763.0 580.7,765.0 579.5,767.0 578.3,769.0 577.0,771.0 575.3,773.0 574.0,774.2 572.0,775.6 570.0,776.7 568.0,777.3 564.0,777.8 560.0,777.5 558.0,777.0 556.0,776.0 554.4,775.0 552.7,773.0 553.0,769.0 554.6,767.0 557.1,765.0 560.0,763.1 562.0,762.0 564.0,761.1 566.0,760.5 570.0,759.9 574.0,759.8 576.9,759.0 580.0,757.5Z"/>
<path fill="#606D77" d="M548.1,445.0 550.0,444.2 552.0,443.7 556.0,443.5 560.0,444.4 562.0,445.3 564.0,446.8 565.8,449.0 566.7,451.0 567.0,455.0 566.4,457.0 565.3,459.0 564.0,460.4 562.0,462.0 560.0,463.0 558.0,463.7 554.0,464.1 550.0,463.4 548.0,462.5 546.0,461.3 544.0,459.3 542.7,457.0 542.2,455.0 542.6,451.0 543.6,449.0 545.3,447.0 548.0,445.1ZM408.3,527.0 412.0,526.8 416.0,526.8 418.5,527.0 422.0,527.5 426.0,528.2 429.9,529.0 432.0,529.5 434.0,530.2 436.0,531.1 438.0,532.3 440.0,533.8 441.4,535.0 443.4,537.0 445.0,539.0 446.3,541.0 447.3,543.0 448.0,545.0 448.7,549.0 448.5,553.0 448.0,555.0 447.3,557.0 446.2,559.0 444.9,561.0 443.1,563.0 440.8,565.0 438.0,566.8 436.0,567.8 434.0,568.7 432.0,569.4 430.0,570.1 428.0,570.7 426.0,571.3 422.0,572.2 418.3,573.0 416.0,573.4 412.0,573.8 408.0,574.0 404.0,574.0 400.0,574.1 396.0,574.2 392.0,574.2 388.0,573.9 384.0,573.4 380.0,572.6 376.0,571.8 374.0,571.3 372.0,570.6 370.0,569.9 368.0,569.2 366.0,568.2 364.0,567.1 362.0,565.8 360.0,564.4 358.3,563.0 356.3,561.0 354.6,559.0 353.4,557.0 352.7,555.0 352.3,551.0 353.7,547.0 355.1,545.0 356.9,543.0 359.4,541.0 362.0,539.3 364.0,538.2 366.0,537.1 368.0,536.2 370.0,535.3 372.0,534.4 374.0,533.6 376.0,532.8 378.0,532.1 380.0,531.4 382.0,530.8 384.0,530.3 388.0,529.4 392.0,528.7 396.0,528.2 400.0,527.8 404.0,527.4 408.0,527.0ZM762.7,539.0 766.0,538.3 770.0,537.7 774.0,537.3 778.0,537.1 782.0,537.1 786.0,537.3 790.0,538.1 792.0,538.9 794.0,540.2 796.0,542.2 797.6,545.0 798.1,547.0 798.4,551.0 798.0,554.1 797.2,557.0 796.4,559.0 795.5,561.0 794.4,563.0 793.2,565.0 792.0,566.7 790.0,569.0 788.0,570.9 786.0,572.6 784.0,574.2 782.0,575.6 780.0,576.9 778.0,578.0 776.1,579.0 774.0,579.9 772.0,580.8 770.0,581.5 768.0,582.2 764.0,583.0 760.0,583.1 757.5,583.0 754.0,582.6 750.0,581.8 748.0,581.1 746.0,580.2 744.0,579.0 742.0,577.6 740.0,576.0 738.0,574.0 736.0,571.4 734.8,569.0 734.1,567.0 733.7,563.0 734.6,559.0 735.3,557.0 736.3,555.0 737.5,553.0 739.0,551.0 741.0,549.0 743.5,547.0 746.0,545.3 748.0,544.1 749.9,543.0 752.0,542.0 754.0,541.2 756.0,540.6 758.0,540.0 762.0,539.1ZM571.7,613.0 574.0,612.7 578.0,612.4 582.0,613.0 584.0,613.8 586.0,615.0 588.0,616.7 590.0,618.9 591.6,621.0 592.9,623.0 594.0,624.7 595.4,627.0 596.7,629.0 597.9,631.0 599.1,633.0 600.4,635.0 601.6,637.0 602.7,639.0 603.8,641.0 604.5,643.0 604.6,647.0 602.9,649.0 600.0,650.0 596.0,650.5 592.0,650.8 588.7,651.0 586.0,651.1 582.0,651.1 578.0,650.9 574.0,650.7 570.0,650.4 566.0,649.8 562.5,649.0 560.0,648.3 558.0,647.6 556.0,646.9 554.0,646.2 552.0,645.3 550.0,644.3 548.0,643.1 546.0,641.5 544.0,639.3 542.6,637.0 542.0,635.1 541.8,631.0 542.4,629.0 543.3,627.0 544.8,625.0 547.0,623.0 550.0,621.0 552.0,620.0 553.8,619.0 556.0,618.0 558.0,617.0 560.0,616.1 562.0,615.4 564.0,614.7 566.0,614.1 570.0,613.3ZM681.3,635.0 684.0,634.5 688.0,634.0 692.0,633.7 696.0,633.6 700.0,633.7 704.0,634.0 708.0,634.6 712.0,635.5 714.0,636.0 716.0,636.6 718.0,637.2 720.0,638.0 722.0,638.8 724.0,639.7 726.0,640.7 728.0,641.8 730.0,642.9 732.0,644.2 734.0,645.6 735.7,647.0 737.8,649.0 739.6,651.0 741.2,653.0 742.5,655.0 743.6,657.0 744.5,659.0 745.3,661.0 745.9,663.0 746.6,667.0 746.7,671.0 746.0,675.0 745.4,677.0 744.7,679.0 743.8,681.0 742.7,683.0 741.6,685.0 740.2,687.0 738.7,689.0 737.0,691.0 735.0,693.0 732.9,695.0 730.4,697.0 728.0,698.6 726.0,699.8 724.0,700.9 722.0,701.9 720.0,702.8 718.0,703.5 716.0,704.0 712.0,704.6 708.0,704.7 704.0,704.6 700.0,704.3 696.0,703.8 692.0,703.1 688.0,702.1 686.0,701.4 684.0,700.6 682.0,699.7 680.0,698.8 678.0,697.8 676.0,696.8 674.0,695.8 672.3,695.0 670.0,693.8 668.0,692.7 666.0,691.6 664.0,690.4 662.0,689.2 660.0,687.9 658.0,686.6 656.0,685.3 654.0,683.9 652.0,682.5 650.0,681.0 648.0,679.5 646.0,677.9 644.0,676.3 642.4,675.0 640.1,673.0 638.1,671.0 636.1,669.0 634.3,667.0 632.5,665.0 631.1,663.0 630.0,661.0 630.0,658.4 632.0,656.0 634.0,654.7 636.0,653.7 638.0,652.8 640.0,652.0 642.0,651.1 644.0,650.2 646.0,649.1 648.0,648.0 649.6,647.0 652.0,645.6 654.0,644.4 656.0,643.4 658.0,642.4 660.0,641.5 662.0,640.7 664.0,639.9 666.0,639.2 668.0,638.5 670.0,637.8 672.0,637.2 674.0,636.7 678.0,635.7 681.3,635.0Z"/>
<path fill="#4D5964" d="M417.7,537.0 420.8,537.0 424.0,537.4 428.0,538.6 430.0,539.4 432.0,540.6 434.0,542.4 435.6,545.0 436.2,547.0 436.5,551.0 436.0,554.3 434.9,557.0 433.3,559.0 430.8,561.0 428.0,562.7 426.0,563.5 424.0,564.1 420.0,564.9 416.0,565.5 412.0,565.7 408.0,565.5 404.0,565.1 400.0,564.5 396.0,563.8 394.0,563.3 392.0,562.5 390.0,561.6 388.0,560.6 386.0,559.3 384.0,557.6 382.6,555.0 383.7,551.0 385.3,549.0 387.3,547.0 390.0,545.1 392.0,543.9 393.7,543.0 396.0,542.1 398.0,541.3 400.0,540.7 402.0,540.2 406.0,539.3 410.0,538.4 414.0,537.5 417.7,537.0ZM685.2,643.0 688.0,642.4 692.0,641.9 696.0,641.8 700.0,641.8 704.0,642.2 707.6,643.0 710.0,643.7 712.0,644.3 714.0,645.0 716.0,645.9 718.0,646.8 720.0,648.0 721.6,649.0 724.0,650.7 726.0,652.2 728.0,653.9 730.0,655.9 732.0,658.4 733.6,661.0 734.6,663.0 735.3,665.0 735.9,667.0 736.5,671.0 736.3,675.0 735.2,679.0 734.3,681.0 733.2,683.0 732.0,684.9 730.3,687.0 728.4,689.0 726.1,691.0 724.0,692.4 722.0,693.6 720.0,694.6 718.0,695.5 716.0,696.2 714.0,696.8 710.0,697.4 706.0,697.5 702.0,697.2 698.0,696.5 696.0,696.0 694.0,695.4 692.0,694.6 690.0,693.7 688.0,692.7 686.0,691.5 684.0,690.2 682.1,689.0 680.0,687.6 678.0,686.1 676.5,685.0 674.1,683.0 672.0,681.1 670.0,679.2 668.0,677.2 666.1,675.0 664.5,673.0 663.2,671.0 662.3,669.0 661.6,667.0 661.2,663.0 662.0,660.1 663.6,657.0 665.1,655.0 666.9,653.0 669.1,651.0 671.8,649.0 674.0,647.6 676.0,646.6 678.0,645.6 680.0,644.8 682.0,644.0 684.0,643.4Z"/>
<path fill="#353A45" d="M691.5,653.0 694.0,652.2 698.0,651.6 702.0,651.5 706.0,652.0 708.0,652.5 710.0,653.2 712.0,654.1 713.7,655.0 716.0,656.4 718.0,657.9 720.0,659.7 722.0,662.1 723.9,665.0 724.7,667.0 725.2,669.0 725.5,673.0 724.4,677.0 723.3,679.0 722.0,680.8 720.0,682.7 718.0,684.2 716.0,685.3 714.0,686.2 712.0,687.0 710.0,687.5 706.0,688.1 702.0,687.9 698.1,687.0 696.0,686.2 694.0,685.2 692.0,684.0 690.0,682.6 688.1,681.0 686.0,679.0 684.3,677.0 682.8,675.0 681.7,673.0 680.9,671.0 680.3,667.0 680.9,663.0 681.8,661.0 683.1,659.0 684.9,657.0 687.4,655.0 690.0,653.6Z"/>
<path fill="#B2B6B6" d="M930.5,760.3C930.1,756.1 930.9,750.4 931.2,744.7C931.6,739.0 931.2,730.9 932.8,725.9C934.4,721.0 937.5,716.7 940.6,715.0C943.8,713.3 947.4,714.7 951.6,715.8C955.7,716.8 961.2,719.2 965.6,721.2C970.1,723.3 974.7,725.7 978.1,728.3C981.5,730.9 984.9,734.1 985.9,736.9C987.0,739.6 986.2,741.6 984.4,744.7C982.6,747.8 978.6,752.0 975.0,755.6C971.4,759.3 966.7,763.3 962.5,766.6C958.3,769.8 953.6,773.7 950.0,775.2C946.4,776.6 943.4,776.1 940.6,775.2C937.9,774.2 935.3,772.2 933.6,769.7C931.9,767.2 930.9,764.5 930.5,760.3Z"/>
<path fill="#B2B6B6" d="M617.0,317.5C619.2,316.6 625.3,316.4 630.0,316.5C634.7,316.6 640.5,317.1 645.0,318.0C649.5,318.9 655.0,320.8 657.0,322.0C659.0,323.2 659.0,325.2 657.0,325.5C655.0,325.8 649.5,324.1 645.0,323.5C640.5,322.9 634.7,322.2 630.0,322.0C625.3,321.8 619.2,322.8 617.0,322.0C614.8,321.2 614.8,318.4 617.0,317.5Z"/>
<path fill="#CDCDCD" d="M862.0,585.0C861.7,579.7 864.2,572.3 868.0,568.0C871.8,563.7 878.0,560.8 885.0,559.0C892.0,557.2 901.7,556.8 910.0,557.0C918.3,557.2 928.7,557.5 935.0,560.0C941.3,562.5 945.5,567.0 948.0,572.0C950.5,577.0 951.3,584.7 950.0,590.0C948.7,595.3 945.8,600.5 940.0,604.0C934.2,607.5 923.3,610.0 915.0,611.0C906.7,612.0 897.5,611.8 890.0,610.0C882.5,608.2 874.7,604.2 870.0,600.0C865.3,595.8 862.3,590.3 862.0,585.0Z"/>
<path fill="#CDCDCD" d="M910.0,475.0C910.3,470.2 914.2,465.5 920.0,463.0C925.8,460.5 937.5,459.0 945.0,460.0C952.5,461.0 959.7,464.2 965.0,469.0C970.3,473.8 975.3,482.3 977.0,489.0C978.7,495.7 978.7,504.7 975.0,509.0C971.3,513.3 961.7,515.5 955.0,515.0C948.3,514.5 941.2,509.8 935.0,506.0C928.8,502.2 922.2,497.2 918.0,492.0C913.8,486.8 909.7,479.8 910.0,475.0Z"/>
<path fill="#CDCDCD" d="M405.5,360.2C406.5,359.4 409.8,359.4 412.0,359.6C414.2,359.8 417.5,360.4 418.5,361.6C419.5,362.8 419.2,365.9 418.0,366.6C416.8,367.3 413.0,366.4 411.0,366.0C409.0,365.6 406.9,365.2 406.0,364.2C405.1,363.2 404.5,361.0 405.5,360.2Z"/>
<path fill="#B2B6B6" d="M672.5,500.0C672.7,496.7 673.3,492.4 676.2,490.0C679.2,487.6 685.2,485.9 690.0,485.5C694.8,485.1 701.5,485.9 705.0,487.5C708.5,489.1 710.8,492.1 711.2,495.0C711.7,497.9 710.2,501.9 707.5,505.0C704.8,508.1 699.2,511.9 695.0,513.8C690.8,515.6 685.8,516.9 682.5,516.2C679.2,515.6 676.7,512.7 675.0,510.0C673.3,507.3 672.3,503.3 672.5,500.0Z"/>
<path fill="#B2B6B6" d="M660.0,595.0C659.8,591.9 660.4,587.7 662.5,585.0C664.6,582.3 669.0,579.4 672.5,578.8C676.0,578.1 681.0,579.2 683.8,581.2C686.5,583.3 688.5,587.9 688.8,591.2C689.0,594.6 687.7,598.8 685.0,601.2C682.3,603.8 676.0,605.8 672.5,606.2C669.0,606.7 665.8,605.6 663.8,603.8C661.7,601.9 660.2,598.1 660.0,595.0Z"/>
</g>
<g fill="#1E1E1E" fill-opacity="0.42"><circle cx="907.7" cy="631.4" r="0.5"/><circle cx="856.7" cy="767.8" r="0.5"/><circle cx="959.3" cy="696.1" r="0.5"/><circle cx="558.3" cy="428.4" r="0.5"/><circle cx="598.1" cy="471.9" r="0.5"/><circle cx="673.8" cy="754.5" r="0.5"/><circle cx="973.9" cy="277.3" r="0.5"/><circle cx="329.2" cy="724.8" r="0.5"/><circle cx="871.3" cy="709.3" r="0.5"/><circle cx="706.7" cy="552.8" r="0.5"/><circle cx="519.7" cy="473.1" r="0.5"/><circle cx="545.4" cy="458.5" r="0.5"/><circle cx="813.7" cy="444.9" r="0.5"/><circle cx="795.2" cy="543.5" r="0.5"/><circle cx="668.2" cy="568.6" r="0.5"/><circle cx="989.2" cy="593.5" r="0.5"/><circle cx="811.3" cy="830.3" r="0.5"/><circle cx="697.3" cy="706.2" r="0.5"/><circle cx="480.8" cy="630.5" r="0.5"/><circle cx="873.6" cy="823.7" r="0.5"/><circle cx="594.2" cy="422.4" r="0.5"/><circle cx="647.9" cy="387.8" r="0.5"/><circle cx="893.8" cy="625.4" r="0.5"/><circle cx="1037.2" cy="311.5" r="0.5"/><circle cx="512.6" cy="307.7" r="0.5"/><circle cx="1050.3" cy="572.7" r="0.5"/><circle cx="415.1" cy="553.0" r="0.5"/><circle cx="910.5" cy="776.4" r="0.5"/><circle cx="871.5" cy="633.1" r="0.5"/><circle cx="794.5" cy="573.8" r="0.5"/><circle cx="831.3" cy="564.4" r="0.5"/><circle cx="774.6" cy="441.3" r="0.5"/><circle cx="942.4" cy="286.0" r="0.5"/><circle cx="558.9" cy="409.7" r="0.5"/><circle cx="578.6" cy="660.8" r="0.5"/><circle cx="944.3" cy="412.4" r="0.5"/><circle cx="700.5" cy="509.5" r="0.5"/><circle cx="968.4" cy="274.9" r="0.5"/><circle cx="995.8" cy="728.8" r="0.5"/><circle cx="621.1" cy="383.7" r="0.5"/><circle cx="540.1" cy="452.8" r="0.5"/><circle cx="546.1" cy="759.4" r="0.5"/><circle cx="787.8" cy="571.7" r="0.5"/><circle cx="1176.8" cy="738.8" r="0.5"/><circle cx="513.3" cy="639.5" r="0.5"/><circle cx="875.0" cy="680.3" r="0.5"/><circle cx="770.4" cy="341.7" r="0.5"/><circle cx="676.8" cy="586.2" r="0.5"/><circle cx="453.2" cy="572.0" r="0.5"/><circle cx="1003.2" cy="752.4" r="0.5"/><circle cx="616.1" cy="504.9" r="0.5"/><circle cx="476.5" cy="618.4" r="0.5"/><circle cx="954.8" cy="320.4" r="0.5"/><circle cx="1174.5" cy="516.1" r="0.5"/><circle cx="1175.9" cy="482.1" r="0.5"/><circle cx="917.6" cy="378.6" r="0.5"/><circle cx="776.4" cy="720.9" r="0.5"/><circle cx="339.1" cy="516.0" r="0.5"/><circle cx="1112.8" cy="813.8" r="0.5"/><circle cx="1055.5" cy="612.8" r="0.5"/><circle cx="1013.5" cy="620.2" r="0.5"/><circle cx="867.1" cy="637.0" r="0.5"/><circle cx="1081.2" cy="652.4" r="0.5"/><circle cx="1122.7" cy="379.0" r="0.5"/><circle cx="789.4" cy="541.3" r="0.5"/><circle cx="613.5" cy="437.1" r="0.5"/><circle cx="603.6" cy="525.0" r="0.5"/><circle cx="1124.3" cy="343.1" r="0.5"/><circle cx="1121.8" cy="805.6" r="0.5"/><circle cx="552.7" cy="422.4" r="0.5"/><circle cx="1135.3" cy="650.2" r="0.5"/><circle cx="641.0" cy="471.9" r="0.5"/><circle cx="835.5" cy="755.9" r="0.5"/><circle cx="1127.4" cy="647.0" r="0.5"/><circle cx="606.0" cy="367.8" r="0.5"/><circle cx="697.1" cy="738.6" r="0.5"/><circle cx="384.2" cy="792.1" r="0.5"/><circle cx="595.5" cy="770.9" r="0.5"/><circle cx="582.8" cy="603.5" r="0.5"/><circle cx="384.7" cy="377.5" r="0.5"/><circle cx="568.4" cy="409.7" r="0.5"/><circle cx="744.4" cy="783.5" r="0.5"/><circle cx="685.6" cy="592.3" r="0.5"/><circle cx="630.5" cy="400.3" r="0.5"/><circle cx="534.8" cy="761.2" r="0.5"/><circle cx="721.7" cy="639.9" r="0.5"/><circle cx="579.3" cy="603.0" r="0.5"/><circle cx="491.2" cy="513.9" r="0.5"/><circle cx="528.2" cy="529.6" r="0.5"/><circle cx="601.6" cy="437.6" r="0.5"/><circle cx="1048.4" cy="307.3" r="0.5"/><circle cx="490.9" cy="756.9" r="0.5"/><circle cx="659.8" cy="553.4" r="0.5"/><circle cx="520.7" cy="590.7" r="0.5"/><circle cx="818.3" cy="482.4" r="0.5"/><circle cx="1002.1" cy="685.5" r="0.5"/><circle cx="461.1" cy="299.5" r="0.5"/><circle cx="477.0" cy="511.9" r="0.5"/><circle cx="555.9" cy="302.8" r="0.5"/><circle cx="666.4" cy="361.0" r="0.5"/><circle cx="938.5" cy="804.2" r="0.5"/><circle cx="384.1" cy="647.1" r="0.5"/><circle cx="384.9" cy="536.1" r="0.5"/><circle cx="361.9" cy="579.3" r="0.5"/><circle cx="548.1" cy="754.1" r="0.5"/><circle cx="1030.2" cy="494.4" r="0.5"/><circle cx="329.4" cy="615.8" r="0.5"/><circle cx="705.4" cy="656.9" r="0.5"/><circle cx="1044.5" cy="501.4" r="0.5"/><circle cx="1062.1" cy="575.6" r="0.5"/><circle cx="591.9" cy="693.2" r="0.5"/><circle cx="884.6" cy="773.4" r="0.5"/><circle cx="386.3" cy="380.8" r="0.5"/><circle cx="1086.1" cy="784.8" r="0.5"/><circle cx="954.5" cy="276.8" r="0.5"/><circle cx="637.9" cy="687.5" r="0.5"/><circle cx="894.0" cy="716.7" r="0.5"/><circle cx="1156.7" cy="368.8" r="0.5"/><circle cx="370.7" cy="533.6" r="0.5"/><circle cx="543.9" cy="721.4" r="0.5"/><circle cx="1153.1" cy="286.8" r="0.5"/><circle cx="736.7" cy="633.2" r="0.5"/><circle cx="744.1" cy="707.3" r="0.5"/><circle cx="632.4" cy="573.2" r="0.5"/><circle cx="625.8" cy="674.4" r="0.5"/><circle cx="773.6" cy="428.6" r="0.5"/><circle cx="529.9" cy="414.0" r="0.5"/><circle cx="1073.7" cy="504.9" r="0.5"/><circle cx="1091.7" cy="399.2" r="0.5"/><circle cx="596.9" cy="497.8" r="0.5"/><circle cx="1099.8" cy="792.5" r="0.5"/><circle cx="586.8" cy="605.0" r="0.5"/><circle cx="860.4" cy="492.1" r="0.5"/><circle cx="576.7" cy="454.6" r="0.5"/><circle cx="428.0" cy="796.4" r="0.5"/><circle cx="729.8" cy="543.7" r="0.5"/><circle cx="878.7" cy="814.9" r="0.5"/><circle cx="366.5" cy="574.9" r="0.5"/><circle cx="605.7" cy="577.1" r="0.5"/><circle cx="677.4" cy="766.6" r="0.5"/><circle cx="1048.4" cy="681.5" r="0.5"/><circle cx="603.1" cy="609.5" r="0.5"/><circle cx="834.6" cy="534.9" r="0.5"/><circle cx="881.1" cy="757.4" r="0.5"/><circle cx="637.5" cy="529.3" r="0.5"/><circle cx="501.8" cy="781.3" r="0.5"/><circle cx="877.5" cy="327.0" r="0.5"/><circle cx="642.0" cy="537.3" r="0.5"/><circle cx="337.4" cy="577.9" r="0.5"/><circle cx="945.6" cy="794.6" r="0.5"/><circle cx="757.5" cy="442.1" r="0.5"/><circle cx="659.8" cy="715.5" r="0.5"/><circle cx="1092.4" cy="652.4" r="0.5"/><circle cx="687.3" cy="670.6" r="0.5"/><circle cx="958.5" cy="633.0" r="0.5"/><circle cx="574.8" cy="809.3" r="0.5"/><circle cx="804.2" cy="489.5" r="0.5"/><circle cx="628.5" cy="522.7" r="0.5"/><circle cx="745.5" cy="414.9" r="0.5"/><circle cx="496.0" cy="316.3" r="0.5"/><circle cx="785.9" cy="421.3" r="0.5"/><circle cx="571.3" cy="776.3" r="0.5"/><circle cx="1099.3" cy="734.6" r="0.5"/><circle cx="1012.9" cy="352.1" r="0.5"/><circle cx="731.4" cy="620.3" r="0.5"/><circle cx="1105.9" cy="556.0" r="0.5"/><circle cx="529.9" cy="616.3" r="0.5"/><circle cx="657.5" cy="647.6" r="0.5"/><circle cx="537.4" cy="475.2" r="0.5"/><circle cx="1021.8" cy="800.8" r="0.5"/><circle cx="384.6" cy="552.3" r="0.5"/><circle cx="694.8" cy="633.8" r="0.5"/><circle cx="506.3" cy="636.1" r="0.5"/><circle cx="704.3" cy="403.2" r="0.5"/><circle cx="854.5" cy="322.4" r="0.5"/><circle cx="616.9" cy="529.8" r="0.5"/><circle cx="1009.2" cy="690.6" r="0.5"/><circle cx="533.1" cy="721.7" r="0.5"/><circle cx="554.8" cy="678.0" r="0.5"/><circle cx="520.2" cy="355.3" r="0.5"/><circle cx="928.4" cy="775.1" r="0.5"/><circle cx="516.9" cy="713.2" r="0.5"/><circle cx="809.7" cy="757.0" r="0.5"/><circle cx="1101.0" cy="577.4" r="0.5"/><circle cx="596.4" cy="776.8" r="0.5"/><circle cx="984.7" cy="313.5" r="0.5"/><circle cx="525.7" cy="302.2" r="0.5"/><circle cx="1033.3" cy="292.4" r="0.5"/><circle cx="447.6" cy="444.9" r="0.5"/><circle cx="1004.9" cy="440.6" r="0.5"/><circle cx="840.8" cy="405.4" r="0.5"/><circle cx="736.7" cy="600.8" r="0.5"/><circle cx="667.0" cy="309.6" r="0.5"/><circle cx="363.5" cy="614.3" r="0.5"/><circle cx="670.6" cy="391.4" r="0.5"/><circle cx="613.4" cy="654.5" r="0.5"/><circle cx="684.9" cy="294.5" r="0.5"/><circle cx="588.4" cy="476.3" r="0.5"/><circle cx="566.6" cy="788.2" r="0.5"/><circle cx="832.0" cy="584.1" r="0.5"/><circle cx="1172.1" cy="717.7" r="0.5"/><circle cx="509.2" cy="646.5" r="0.5"/><circle cx="596.5" cy="625.2" r="0.5"/><circle cx="969.6" cy="407.3" r="0.5"/><circle cx="763.9" cy="605.7" r="0.5"/><circle cx="849.6" cy="309.5" r="0.5"/><circle cx="1162.3" cy="711.5" r="0.5"/><circle cx="751.8" cy="801.4" r="0.5"/><circle cx="1158.4" cy="742.8" r="0.5"/><circle cx="497.1" cy="317.9" r="0.5"/><circle cx="580.4" cy="492.4" r="0.5"/><circle cx="666.5" cy="480.6" r="0.5"/><circle cx="1111.9" cy="353.7" r="0.5"/><circle cx="517.9" cy="632.6" r="0.5"/><circle cx="941.6" cy="708.2" r="0.5"/><circle cx="547.4" cy="478.5" r="0.5"/><circle cx="759.3" cy="748.1" r="0.5"/><circle cx="879.9" cy="708.4" r="0.5"/><circle cx="714.5" cy="365.8" r="0.5"/><circle cx="793.5" cy="693.1" r="0.5"/><circle cx="1004.0" cy="758.2" r="0.5"/><circle cx="913.2" cy="411.8" r="0.5"/><circle cx="627.9" cy="605.6" r="0.5"/><circle cx="1007.1" cy="637.2" r="0.5"/><circle cx="1094.7" cy="623.7" r="0.5"/><circle cx="997.0" cy="343.0" r="0.5"/><circle cx="901.7" cy="647.5" r="0.5"/><circle cx="633.1" cy="634.5" r="0.5"/><circle cx="1032.6" cy="724.9" r="0.5"/><circle cx="809.9" cy="713.9" r="0.5"/><circle cx="372.6" cy="330.6" r="0.5"/><circle cx="406.5" cy="362.9" r="0.5"/><circle cx="427.4" cy="367.1" r="0.5"/><circle cx="526.3" cy="306.3" r="0.5"/><circle cx="542.0" cy="324.4" r="0.5"/><circle cx="583.6" cy="331.3" r="0.5"/><circle cx="595.1" cy="319.2" r="0.5"/><circle cx="552.4" cy="352.5" r="0.5"/><circle cx="392.0" cy="425.4" r="0.5"/><circle cx="461.8" cy="441.7" r="0.5"/><circle cx="425.3" cy="452.5" r="0.5"/><circle cx="419.0" cy="456.3" r="0.5"/><circle cx="518.0" cy="392.1" r="0.5"/><circle cx="599.3" cy="395.2" r="0.5"/></g>
<g fill="#000" font-size="30.5" text-anchor="middle">
<text x="394.7" y="335.0">1 %</text>
<text x="545.5" y="335.0">1 %</text>
<text x="695.0" y="335.0">3 %</text>
<text x="846.3" y="335.0">3 %</text>
<text x="995.8" y="335.0">13 %</text>
<text x="1146.6" y="335.0">3 %</text>
<text x="394.7" y="450.2">0 %</text>
<text x="545.5" y="450.2">2 %</text>
<text x="695.0" y="450.2">2 %</text>
<text x="846.3" y="450.2">2 %</text>
<text x="995.8" y="450.2">5 %</text>
<text x="1146.6" y="450.2">6 %</text>
<text x="394.7" y="565.4">3 %</text>
<text x="545.5" y="565.4">3 %</text>
<text x="695.0" y="565.4">2 %</text>
<text x="846.3" y="565.4">2 %</text>
<text x="995.8" y="565.4">6 %</text>
<text x="1146.6" y="565.4">1 %</text>
<text x="394.7" y="680.6">0 %</text>
<text x="545.5" y="680.6">2 %</text>
<text x="695.0" y="680.6">5 %</text>
<text x="846.3" y="680.6">4 %</text>
<text x="995.8" y="680.6">8 %</text>
<text x="1146.6" y="680.6">4 %</text>
<text x="394.7" y="795.8">0 %</text>
<text x="545.5" y="795.8">1 %</text>
<text x="695.0" y="795.8">2 %</text>
<text x="846.3" y="795.8">3 %</text>
<text x="995.8" y="795.8">5 %</text>
<text x="1146.6" y="795.8">8 %</text>
</g>
<g fill="#FFFFF0" font-size="30.5" text-anchor="middle">
<text x="648.4" y="387.0">11</text>
<text x="732.2" y="399.5">66</text>
<text x="577.9" y="425.0">19</text>
<text x="997.3" y="404.2">84</text>
<text x="949.4" y="446.6">5</text>
<text x="785.9" y="543.4">8</text>
<text x="883.2" y="565.2">38</text>
<text x="1127.3" y="563.6">1</text>
<text x="724.5" y="608.6">7</text>
<text x="727.0" y="620.7">10</text>
<text x="776.7" y="664.0">17</text>
<text x="976.8" y="643.3">4</text>
<text x="535.0" y="663.6">20</text>
<text x="718.2" y="714.7">18</text>
<text x="702.2" y="740.0">9</text>
<text x="851.9" y="748.9">26</text>
</g>
<g fill="#3A3A3A" font-size="16">
<text x="652.6" y="940.8">Phil-barter</text>
<text x="788.0" y="940.8">@Barts78</text>
<text x="940.0" y="940.8">@DrBarts</text>
<text x="1095.8" y="940.8">Barts78</text>
<text x="1234.4" y="940.8">OPTA</text>
</g>
<g transform="translate(608,928)"><rect width="14" height="14" rx="2" fill="#3A3A3A"/><rect x="2.4" y="5.4" width="2.1" height="6.3" fill="#FFFAFA"/><circle cx="3.45" cy="3.4" r="1.25" fill="#FFFAFA"/><path d="M6 5.4h2v.9c.4-.7 1.1-1.1 2.1-1.1 1.6 0 2.1 1 2.1 2.6v3.9h-2.1V8.300000000000001c0-.8-.2-1.3-.9-1.3-.8 0-1.100000000000001.6-1.100000000000001 1.4v3.3H6z" fill="#FFFAFA"/></g>
<g transform="translate(744,928)"><rect width="14" height="14" rx="2.4" fill="#3A3A3A"/><path d="M3 3h2.4l2 2.8L9.9 3h1.2L7.9 6.500000000000001 11.3 11H8.9L6.7 8 4 11H2.8l3.4-3.8zM4.6 3.8l4.700000000000001 6.4h.7L5.300000000000001 3.8z" fill="#FFFAFA"/></g>
<g transform="translate(895.7,927.4) scale(0.0301,0.0279)"><path fill="#3A3A3A" d="M433 179.11c0-97.2-63.71-125.7-63.71-125.7-62.52-28.7-228.56-28.4-290.48 0 0 0-63.72 28.5-63.72 125.7 0 115.7-6.6 259.4 105.63 289.1 40.51 10.7 75.32 13 103.33 11.4 50.81-2.8 79.32-18.1 79.32-18.1l-1.7-36.9s-36.31 11.4-77.12 10.1c-40.41-1.4-83-4.4-89.63-54a102.54 102.54 0 0 1-.9-13.9c85.63 20.9 158.65 9.1 178.75 6.7 56.12-6.7 105-41.3 111.23-72.900 9.800-49.800 9-121.500 9-121.500zm-75.120 125.200h-46.630v-114.200c0-49.700-64-51.600-64 6.900v62.500h-46.330V197c0-58.500-64-56.600-64-6.900v114.200H90.190c0-122.100-5.200-147.900 18.410-175 25.900-28.900 79.820-30.800 103.830 6.100l11.600 19.500 11.600-19.500c24.110-37.100 78.120-34.800 103.830-6.100 23.710 27.300 18.400 53 18.400 175z"/></g>
<g transform="translate(1050,927.2) scale(0.94)"><path d="M8 0C3.58 0 0 3.58 0 8c0 3.54 2.29 6.53 5.47 7.59.4.07.55-.17.55-.38 0-.19-.01-.82-.01-1.49-2.01.37-2.53-.49-2.69-.94-.09-.23-.48-.94-.82-1.13-.28-.15-.68-.52-.01-.53.63-.01 1.08.58 1.23.82.72 1.21 1.87.87 2.33.66.07-.52.28-.87.51-1.07-1.78-.2-3.64-.89-3.64-3.95 0-.87.31-1.59.82-2.15-.08-.2-.36-1.02.08-2.12 0 0 .67-.21 2.2.82.64-.18 1.32-.27 2-.27s1.36.09 2 .27c1.530-1.040 2.200-.820 2.200-.820.440 1.100.160 1.920.080 2.120.510.560.820 1.270.820 2.150 0 3.070-1.870 3.750-3.650 3.950.290.250.540.730.540 1.480 0 1.070-.010 1.930-.010 2.200 0 .210.150.460.550.380A8.010 8.010 0 0 0 16 8c0-4.420-3.580-8-8-8z" fill="#3A3A3A"/></g>
<g transform="translate(1187.5,927.5)" fill="#3A3A3A"><path d="M4.100 0 0 2.600 4.100 5.200 8.200 2.600zM12.300 0 8.200 2.600 12.300 5.200 16.400 2.600zM0 7.800 4.100 10.400 8.200 7.800 4.100 5.200zM12.300 5.200 8.200 7.800 12.300 10.400 16.400 7.800zM4.100 11.300 8.200 13.900 12.300 11.300 8.200 8.700z"/></g>
</svg></body></html>
